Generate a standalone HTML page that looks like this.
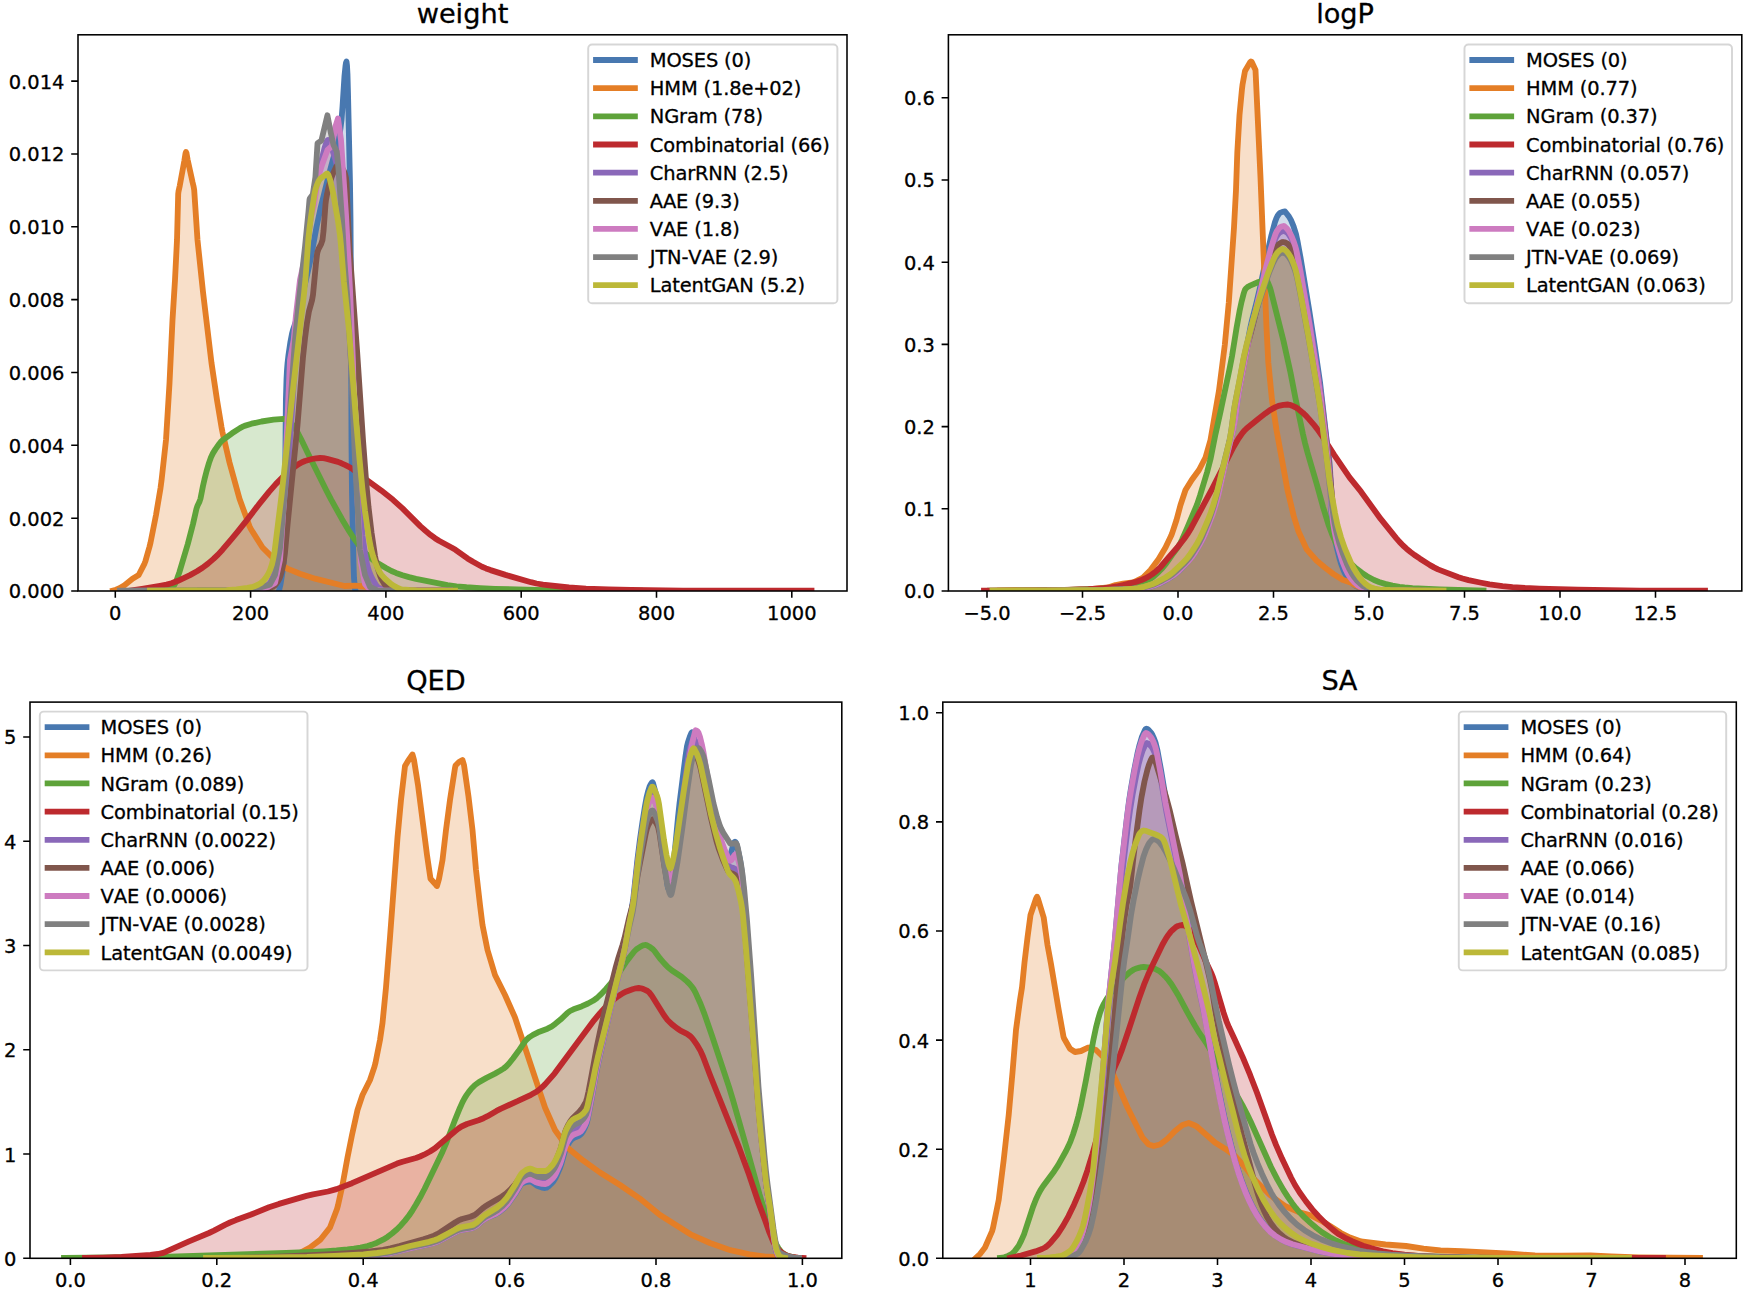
<!DOCTYPE html>
<html lang="en"><head><meta charset="utf-8"><title>Distribution plots</title>
<style>html,body{margin:0;padding:0;background:#fff}svg{display:block}text{font-kerning:none;font-variant-ligatures:none;stroke:#000;stroke-width:0.3px;stroke-linejoin:round}</style></head>
<body>
<svg width="1748" height="1294" viewBox="0 0 1748 1294" font-family="'DejaVu Sans','Liberation Sans',sans-serif">
<rect width="1748" height="1294" fill="#fff"/>
<g id="ax-weight">
<clipPath id="clip0"><rect x="78.0" y="34.8" width="769.0" height="556.2"/></clipPath>
<g clip-path="url(#clip0)">
<path d="M279 590.6 L280.5 584.4 L283 568.9 L284 559 L284.5 550 L285.9 400 L286.5 379.5 L287 370 L287.5 363.7 L288.5 354.9 L290.5 341.5 L292 333.8 L293 329.9 L296.5 319.7 L298 314.2 L309.5 264.3 L311.5 254.4 L316.5 227 L320.5 208.5 L328.5 176.2 L332.5 161.2 L337 146.4 L339 137.5 L340.5 128.2 L341.5 120 L342.5 107.1 L344.5 75.8 L345.5 66 L346 62.8 L346.5 61.5 L347 65.7 L347.5 75 L348 93.4 L350 183.4 L350.5 220 L351 300 L351.5 443.8 L352 493.2 L353.5 562.8 L354 578 L355 588.9 L355.5 590.6 L355.5 591.0 L279 591.0 Z" fill="#4878b0" fill-opacity="0.25"/>
<path d="M113 590.6 L116 589.8 L119.5 588.3 L124.5 585.3 L132.5 578.7 L138.7 575 L144.5 563.6 L145.5 560.9 L149.5 546.8 L150.5 542.7 L156 515 L160.5 488.2 L161.5 480.7 L166 440 L169.5 383.3 L172.5 320 L175 280 L177 240 L178.2 194 L178.5 191.5 L179.8 185.6 L184.4 160.4 L185.5 153.4 L186 152 L186.5 153.2 L187.6 159.6 L192.6 182.4 L193.5 186.1 L194.2 190 L197.5 240 L203 292 L211.5 363 L217 400 L221.5 427.1 L222.5 432.3 L229.5 462.5 L239.5 498.7 L249.5 526.3 L251 529.3 L262.5 547.5 L275.5 560.4 L286.5 568.1 L288 568.9 L300 573.7 L315 578.7 L344.5 586 L355 585.7 L364.5 586.5 L387.5 589.5 L410 590.2 L455 590.6 L455 591.0 L113 591.0 Z" fill="#e47e26" fill-opacity="0.25"/>
<path d="M150 590.6 L163 590.1 L166 589.9 L168 589.4 L170.5 588.3 L172.5 587.1 L174 585.4 L176 582 L179.5 571.9 L187.8 544 L193 524 L196.5 508.6 L197.5 505.7 L199.5 501.6 L200.5 498.6 L203 485.9 L204.5 479.3 L206.5 471.4 L209 462.9 L211 457.2 L213 453.1 L215.5 449.1 L219.5 443.5 L221 441.7 L223 439.8 L232 433.3 L240 428.1 L242.5 426.7 L244.5 425.9 L251.5 423.7 L261.5 421.5 L273.5 419.6 L283.6 418.8 L285 419 L286.5 419.7 L289 421.3 L291 422.9 L293.5 426 L298 433.3 L301 439 L307.5 452.5 L326 489.7 L331 499.4 L342 519.2 L349.5 531.7 L354 538.6 L359 545.3 L363 550.3 L366.5 554.2 L370 557.5 L373.5 560.3 L378 563.3 L386 568 L391.5 571 L396 572.9 L402.5 575.2 L409 577.1 L416 578.8 L447.5 585.1 L456.5 586.3 L466.5 587.2 L480 588.1 L495 588.8 L535.5 590 L574 590.6 L640 590.6 L640 591.0 L150 591.0 Z" fill="#5ea33a" fill-opacity="0.25"/>
<path d="M130 590.6 L142 588.8 L160 585.8 L166.5 584.6 L171.5 583.3 L178 580.8 L190 575.1 L197 571.3 L202.5 567.8 L208 563.6 L213.5 558.9 L218 554.6 L222.5 549.7 L231.5 539.2 L237.5 531.9 L246.5 520.6 L258.5 504.9 L269 491.9 L276 483.9 L285 474.8 L289 471.3 L295 466.7 L299 463.9 L302 462.2 L305 461 L312 459 L316 458.3 L320 458 L323.5 458.2 L327 458.9 L338 461.9 L341.5 463.3 L345.5 465.1 L350.5 467.8 L353 469.4 L364.5 478.3 L381 490.3 L393 499.8 L402.5 508.4 L420.5 526.4 L425.5 530.8 L430.5 534.9 L435 538.2 L439 540.8 L451.5 547.5 L455.5 549.8 L467.5 558.4 L473 561.8 L482 566.7 L486 568.4 L490.5 570.1 L505.5 574.9 L531 582.2 L536.5 583.5 L543 584.6 L569 587.5 L586 588.6 L608.5 589.5 L631 590 L683 590.6 L811.5 590.6 L811.5 591.0 L130 591.0 Z" fill="#bd2a2e" fill-opacity="0.25"/>
<path d="M200 590.6 L221 590.5 L240 590.1 L255.5 589.5 L259.5 588.8 L262.5 587.8 L265.5 586.4 L268 585 L269.5 583.6 L271 581.3 L272.5 578.3 L275.5 570.5 L276.5 566.6 L278 559.1 L281 540 L283 523.5 L285 502.9 L287.5 474 L289.5 447 L292.5 402.3 L296.5 336.5 L298.5 313.1 L301 290 L306 255 L311 215 L315 190.3 L319.5 168.1 L324.5 148.2 L326.5 141.8 L327.5 140.2 L328 140 L328.5 140.2 L329 140.8 L330.5 144.2 L335 158 L337.5 167.6 L339 175.6 L340 182.5 L342.5 205.4 L344 225.8 L346 258.8 L352.5 390.8 L355 434.4 L357.5 473 L360.5 513.8 L362.5 535.8 L365 553.7 L366.5 561.9 L367.5 566.2 L369 571.1 L371 576.1 L373 580 L376 585 L377.5 586.9 L378.5 587.7 L383 589.5 L386.5 590.3 L389.5 590.6 L450 590.6 L450 591.0 L200 591.0 Z" fill="#8a68b9" fill-opacity="0.25"/>
<path d="M200 590.6 L240 590.2 L262 589.5 L265.5 589.1 L268.5 588.4 L271.5 587.4 L273 586.8 L274.5 585.7 L276 584 L278 581.2 L279.5 578.4 L280.5 575.7 L282 570.4 L283.7 562.5 L285 552.3 L287.5 525 L297.5 425 L303 356.9 L305 338.4 L307 322.7 L309 311.1 L312 300.4 L313 294.7 L316 263.1 L317 254.6 L317.5 252 L318.5 249 L321 244.4 L322.5 240 L323.5 231.2 L325.5 204.1 L326 200 L327 194.5 L329 185.5 L331.5 177.3 L333 173.6 L336 167.1 L337 165.6 L338 165 L339.5 165.5 L341 166.9 L343 169.3 L344 171.3 L345 174 L346 178 L346.5 183 L348.5 229.8 L349.5 248.2 L357 350 L363 440.3 L366 479.8 L368.5 506.9 L371.5 532.4 L375 556 L376 561.2 L377.5 567.2 L379 572.4 L380.5 576.7 L382 580 L384.5 584.3 L386 586.2 L387 587.2 L390 588.9 L392.5 590 L394.5 590.5 L396 590.6 L450 590.6 L450 591.0 L200 591.0 Z" fill="#80564c" fill-opacity="0.25"/>
<path d="M200 590.6 L258 589.5 L268 587 L275 583 L280 560 L280.5 553 L284 500 L290 360 L293.7 340 L296 315 L300 280 L304 262 L309 225 L314 205 L318 178 L322 165 L327.5 150 L332 146 L335 128 L338 118.5 L341 140 L346 215 L350 290 L353 363 L353.7 400 L357.5 500 L360.5 554 L361 562.5 L365 584 L369.5 589.1 L370 589.5 L371 589.6 L385 590.6 L450 590.6 L450 591.0 L200 591.0 Z" fill="#cd7bc0" fill-opacity="0.25"/>
<path d="M120 590.6 L240 590 L255 589 L269 584.9 L270 584.5 L275 575 L279.5 550.9 L280 548 L280.5 542.7 L285 490 L290 410 L295 340 L299 300 L305.1 246 L308.5 211.6 L309.5 199.7 L309.7 198.7 L310 198.2 L312.8 194.4 L315.4 177.3 L317.5 143.7 L317.6 143.3 L318 142.9 L321 140.8 L321.5 140.1 L327.4 115.3 L330.8 132.7 L333.4 144.7 L336.8 151.5 L338.5 168.7 L342 220 L344.5 262 L347.5 300 L351 363 L355 460 L360 550 L365 575 L370 587 L378 590.6 L450 590.6 L450 591.0 L120 591.0 Z" fill="#808080" fill-opacity="0.25"/>
<path d="M150 590.6 L191 590.5 L226.5 590.2 L236.5 589.5 L247.5 587.9 L251.5 587.2 L254.5 586.3 L258 584.8 L261 583 L263.5 580.7 L266.5 576.8 L268.5 573.4 L270 570.1 L272 564.2 L273 559.9 L274.5 552 L281.5 495.8 L293.5 385 L304 294 L305.5 278.6 L308.5 237.5 L309.5 228.2 L311 216.8 L314.5 193.9 L315.5 189.3 L317 184.8 L318.5 181.3 L320 179 L321.5 177.7 L324 176 L326 174.1 L327.3 173.5 L328 174.2 L328.5 175.3 L330 179.5 L333 192.3 L338 221 L340 235.4 L341 245.7 L343.9 281.8 L349 330.2 L356 419.2 L359.5 459 L362.5 489.8 L365 511.1 L369 538.4 L371 548.6 L373 556 L375 561.8 L377.5 567.8 L379.5 571.9 L381.5 574.9 L385 578.7 L391 584 L393.5 585.7 L398.5 588.3 L400.5 589 L402 589.3 L409 590 L416.5 590.4 L424 590.6 L455 590.6 L455 591.0 L150 591.0 Z" fill="#bcb838" fill-opacity="0.25"/>
<path d="M279 590.6 L280.5 584.4 L283 568.9 L284 559 L284.5 550 L285.9 400 L286.5 379.5 L287 370 L287.5 363.7 L288.5 354.9 L290.5 341.5 L292 333.8 L293 329.9 L296.5 319.7 L298 314.2 L309.5 264.3 L311.5 254.4 L316.5 227 L320.5 208.5 L328.5 176.2 L332.5 161.2 L337 146.4 L339 137.5 L340.5 128.2 L341.5 120 L342.5 107.1 L344.5 75.8 L345.5 66 L346 62.8 L346.5 61.5 L347 65.7 L347.5 75 L348 93.4 L350 183.4 L350.5 220 L351 300 L351.5 443.8 L352 493.2 L353.5 562.8 L354 578 L355 588.9 L355.5 590.6" fill="none" stroke="#4878b0" stroke-width="5.83" stroke-linejoin="round" stroke-linecap="square"/>
<path d="M113 590.6 L116 589.8 L119.5 588.3 L124.5 585.3 L132.5 578.7 L138.7 575 L144.5 563.6 L145.5 560.9 L149.5 546.8 L150.5 542.7 L156 515 L160.5 488.2 L161.5 480.7 L166 440 L169.5 383.3 L172.5 320 L175 280 L177 240 L178.2 194 L178.5 191.5 L179.8 185.6 L184.4 160.4 L185.5 153.4 L186 152 L186.5 153.2 L187.6 159.6 L192.6 182.4 L193.5 186.1 L194.2 190 L197.5 240 L203 292 L211.5 363 L217 400 L221.5 427.1 L222.5 432.3 L229.5 462.5 L239.5 498.7 L249.5 526.3 L251 529.3 L262.5 547.5 L275.5 560.4 L286.5 568.1 L288 568.9 L300 573.7 L315 578.7 L344.5 586 L355 585.7 L364.5 586.5 L387.5 589.5 L410 590.2 L455 590.6" fill="none" stroke="#e47e26" stroke-width="5.83" stroke-linejoin="round" stroke-linecap="square"/>
<path d="M150 590.6 L163 590.1 L166 589.9 L168 589.4 L170.5 588.3 L172.5 587.1 L174 585.4 L176 582 L179.5 571.9 L187.8 544 L193 524 L196.5 508.6 L197.5 505.7 L199.5 501.6 L200.5 498.6 L203 485.9 L204.5 479.3 L206.5 471.4 L209 462.9 L211 457.2 L213 453.1 L215.5 449.1 L219.5 443.5 L221 441.7 L223 439.8 L232 433.3 L240 428.1 L242.5 426.7 L244.5 425.9 L251.5 423.7 L261.5 421.5 L273.5 419.6 L283.6 418.8 L285 419 L286.5 419.7 L289 421.3 L291 422.9 L293.5 426 L298 433.3 L301 439 L307.5 452.5 L326 489.7 L331 499.4 L342 519.2 L349.5 531.7 L354 538.6 L359 545.3 L363 550.3 L366.5 554.2 L370 557.5 L373.5 560.3 L378 563.3 L386 568 L391.5 571 L396 572.9 L402.5 575.2 L409 577.1 L416 578.8 L447.5 585.1 L456.5 586.3 L466.5 587.2 L480 588.1 L495 588.8 L535.5 590 L574 590.6 L640 590.6" fill="none" stroke="#5ea33a" stroke-width="5.83" stroke-linejoin="round" stroke-linecap="square"/>
<path d="M130 590.6 L142 588.8 L160 585.8 L166.5 584.6 L171.5 583.3 L178 580.8 L190 575.1 L197 571.3 L202.5 567.8 L208 563.6 L213.5 558.9 L218 554.6 L222.5 549.7 L231.5 539.2 L237.5 531.9 L246.5 520.6 L258.5 504.9 L269 491.9 L276 483.9 L285 474.8 L289 471.3 L295 466.7 L299 463.9 L302 462.2 L305 461 L312 459 L316 458.3 L320 458 L323.5 458.2 L327 458.9 L338 461.9 L341.5 463.3 L345.5 465.1 L350.5 467.8 L353 469.4 L364.5 478.3 L381 490.3 L393 499.8 L402.5 508.4 L420.5 526.4 L425.5 530.8 L430.5 534.9 L435 538.2 L439 540.8 L451.5 547.5 L455.5 549.8 L467.5 558.4 L473 561.8 L482 566.7 L486 568.4 L490.5 570.1 L505.5 574.9 L531 582.2 L536.5 583.5 L543 584.6 L569 587.5 L586 588.6 L608.5 589.5 L631 590 L683 590.6 L811.5 590.6" fill="none" stroke="#bd2a2e" stroke-width="5.83" stroke-linejoin="round" stroke-linecap="square"/>
<path d="M200 590.6 L221 590.5 L240 590.1 L255.5 589.5 L259.5 588.8 L262.5 587.8 L265.5 586.4 L268 585 L269.5 583.6 L271 581.3 L272.5 578.3 L275.5 570.5 L276.5 566.6 L278 559.1 L281 540 L283 523.5 L285 502.9 L287.5 474 L289.5 447 L292.5 402.3 L296.5 336.5 L298.5 313.1 L301 290 L306 255 L311 215 L315 190.3 L319.5 168.1 L324.5 148.2 L326.5 141.8 L327.5 140.2 L328 140 L328.5 140.2 L329 140.8 L330.5 144.2 L335 158 L337.5 167.6 L339 175.6 L340 182.5 L342.5 205.4 L344 225.8 L346 258.8 L352.5 390.8 L355 434.4 L357.5 473 L360.5 513.8 L362.5 535.8 L365 553.7 L366.5 561.9 L367.5 566.2 L369 571.1 L371 576.1 L373 580 L376 585 L377.5 586.9 L378.5 587.7 L383 589.5 L386.5 590.3 L389.5 590.6 L450 590.6" fill="none" stroke="#8a68b9" stroke-width="5.83" stroke-linejoin="round" stroke-linecap="square"/>
<path d="M200 590.6 L240 590.2 L262 589.5 L265.5 589.1 L268.5 588.4 L271.5 587.4 L273 586.8 L274.5 585.7 L276 584 L278 581.2 L279.5 578.4 L280.5 575.7 L282 570.4 L283.7 562.5 L285 552.3 L287.5 525 L297.5 425 L303 356.9 L305 338.4 L307 322.7 L309 311.1 L312 300.4 L313 294.7 L316 263.1 L317 254.6 L317.5 252 L318.5 249 L321 244.4 L322.5 240 L323.5 231.2 L325.5 204.1 L326 200 L327 194.5 L329 185.5 L331.5 177.3 L333 173.6 L336 167.1 L337 165.6 L338 165 L339.5 165.5 L341 166.9 L343 169.3 L344 171.3 L345 174 L346 178 L346.5 183 L348.5 229.8 L349.5 248.2 L357 350 L363 440.3 L366 479.8 L368.5 506.9 L371.5 532.4 L375 556 L376 561.2 L377.5 567.2 L379 572.4 L380.5 576.7 L382 580 L384.5 584.3 L386 586.2 L387 587.2 L390 588.9 L392.5 590 L394.5 590.5 L396 590.6 L450 590.6" fill="none" stroke="#80564c" stroke-width="5.83" stroke-linejoin="round" stroke-linecap="square"/>
<path d="M200 590.6 L258 589.5 L268 587 L275 583 L280 560 L280.5 553 L284 500 L290 360 L293.7 340 L296 315 L300 280 L304 262 L309 225 L314 205 L318 178 L322 165 L327.5 150 L332 146 L335 128 L338 118.5 L341 140 L346 215 L350 290 L353 363 L353.7 400 L357.5 500 L360.5 554 L361 562.5 L365 584 L369.5 589.1 L370 589.5 L371 589.6 L385 590.6 L450 590.6" fill="none" stroke="#cd7bc0" stroke-width="5.83" stroke-linejoin="round" stroke-linecap="square"/>
<path d="M120 590.6 L240 590 L255 589 L269 584.9 L270 584.5 L275 575 L279.5 550.9 L280 548 L280.5 542.7 L285 490 L290 410 L295 340 L299 300 L305.1 246 L308.5 211.6 L309.5 199.7 L309.7 198.7 L310 198.2 L312.8 194.4 L315.4 177.3 L317.5 143.7 L317.6 143.3 L318 142.9 L321 140.8 L321.5 140.1 L327.4 115.3 L330.8 132.7 L333.4 144.7 L336.8 151.5 L338.5 168.7 L342 220 L344.5 262 L347.5 300 L351 363 L355 460 L360 550 L365 575 L370 587 L378 590.6 L450 590.6" fill="none" stroke="#808080" stroke-width="5.83" stroke-linejoin="round" stroke-linecap="square"/>
<path d="M150 590.6 L191 590.5 L226.5 590.2 L236.5 589.5 L247.5 587.9 L251.5 587.2 L254.5 586.3 L258 584.8 L261 583 L263.5 580.7 L266.5 576.8 L268.5 573.4 L270 570.1 L272 564.2 L273 559.9 L274.5 552 L281.5 495.8 L293.5 385 L304 294 L305.5 278.6 L308.5 237.5 L309.5 228.2 L311 216.8 L314.5 193.9 L315.5 189.3 L317 184.8 L318.5 181.3 L320 179 L321.5 177.7 L324 176 L326 174.1 L327.3 173.5 L328 174.2 L328.5 175.3 L330 179.5 L333 192.3 L338 221 L340 235.4 L341 245.7 L343.9 281.8 L349 330.2 L356 419.2 L359.5 459 L362.5 489.8 L365 511.1 L369 538.4 L371 548.6 L373 556 L375 561.8 L377.5 567.8 L379.5 571.9 L381.5 574.9 L385 578.7 L391 584 L393.5 585.7 L398.5 588.3 L400.5 589 L402 589.3 L409 590 L416.5 590.4 L424 590.6 L455 590.6" fill="none" stroke="#bcb838" stroke-width="5.83" stroke-linejoin="round" stroke-linecap="square"/>
</g>
<rect x="78.0" y="34.8" width="769.0" height="556.2" fill="none" stroke="#000" stroke-width="1.56"/>
<path d="M115.3 591.0 v6.8 M250.6 591.0 v6.8 M385.9 591.0 v6.8 M521.2 591.0 v6.8 M656.5 591.0 v6.8 M791.8 591.0 v6.8 M78.0 591 h-6.8 M78.0 518.2 h-6.8 M78.0 445.3 h-6.8 M78.0 372.5 h-6.8 M78.0 299.6 h-6.8 M78.0 226.8 h-6.8 M78.0 154 h-6.8 M78.0 81.1 h-6.8" stroke="#000" stroke-width="1.56" fill="none"/>
<g font-size="19.44" fill="#000">
<text x="115.3" y="619.5" text-anchor="middle">0</text>
<text x="250.6" y="619.5" text-anchor="middle">200</text>
<text x="385.9" y="619.5" text-anchor="middle">400</text>
<text x="521.2" y="619.5" text-anchor="middle">600</text>
<text x="656.5" y="619.5" text-anchor="middle">800</text>
<text x="791.8" y="619.5" text-anchor="middle">1000</text>
<text x="64.4" y="598.4" text-anchor="end">0.000</text>
<text x="64.4" y="525.6" text-anchor="end">0.002</text>
<text x="64.4" y="452.7" text-anchor="end">0.004</text>
<text x="64.4" y="379.9" text-anchor="end">0.006</text>
<text x="64.4" y="307" text-anchor="end">0.008</text>
<text x="64.4" y="234.2" text-anchor="end">0.010</text>
<text x="64.4" y="161.4" text-anchor="end">0.012</text>
<text x="64.4" y="88.5" text-anchor="end">0.014</text>
</g>
<text x="462.5" y="23.1" text-anchor="middle" font-size="27.2" fill="#000">weight</text>
<rect x="588.2" y="44.5" width="249.2" height="258.8" rx="3.9" ry="3.9" fill="#fff" fill-opacity="0.8" stroke="#ccc" stroke-opacity="0.8" stroke-width="1.94"/>
<g font-size="19.44" fill="#000">
<path d="M596 60 h38.9" stroke="#4878b0" stroke-width="5.83" stroke-linecap="square" fill="none"/>
<text x="649.8" y="67.2" letter-spacing="-0.15">MOSES (0)</text>
<path d="M596 88.2 h38.9" stroke="#e47e26" stroke-width="5.83" stroke-linecap="square" fill="none"/>
<text x="649.8" y="95.3" letter-spacing="-0.15">HMM (1.8e+02)</text>
<path d="M596 116.3 h38.9" stroke="#5ea33a" stroke-width="5.83" stroke-linecap="square" fill="none"/>
<text x="649.8" y="123.4" letter-spacing="-0.15">NGram (78)</text>
<path d="M596 144.5 h38.9" stroke="#bd2a2e" stroke-width="5.83" stroke-linecap="square" fill="none"/>
<text x="649.8" y="151.6" letter-spacing="-0.15">Combinatorial (66)</text>
<path d="M596 172.7 h38.9" stroke="#8a68b9" stroke-width="5.83" stroke-linecap="square" fill="none"/>
<text x="649.8" y="179.8" letter-spacing="-0.15">CharRNN (2.5)</text>
<path d="M596 200.8 h38.9" stroke="#80564c" stroke-width="5.83" stroke-linecap="square" fill="none"/>
<text x="649.8" y="207.9" letter-spacing="-0.15">AAE (9.3)</text>
<path d="M596 228.9 h38.9" stroke="#cd7bc0" stroke-width="5.83" stroke-linecap="square" fill="none"/>
<text x="649.8" y="236" letter-spacing="-0.15">VAE (1.8)</text>
<path d="M596 257.1 h38.9" stroke="#808080" stroke-width="5.83" stroke-linecap="square" fill="none"/>
<text x="649.8" y="264.2" letter-spacing="-0.15">JTN-VAE (2.9)</text>
<path d="M596 285.2 h38.9" stroke="#bcb838" stroke-width="5.83" stroke-linecap="square" fill="none"/>
<text x="649.8" y="292.3" letter-spacing="-0.15">LatentGAN (5.2)</text>
</g>
</g>
<g id="ax-logP">
<clipPath id="clip1"><rect x="948.4" y="34.8" width="793.4" height="556.2"/></clipPath>
<g clip-path="url(#clip1)">
<path d="M1080 590.6 L1121.5 589.5 L1141 588.4 L1144.5 587.9 L1148 587.2 L1152.5 585.9 L1158 584 L1163 581.6 L1170.5 577.3 L1175.5 573.9 L1179.5 570.4 L1188.5 560.8 L1192.5 556 L1196 550.8 L1200.5 542.9 L1203 538 L1205.5 532.5 L1210.5 519.1 L1215 505.4 L1218.5 492.2 L1224 465.8 L1228.5 446.1 L1232.5 429.7 L1234.5 420.4 L1236 411.6 L1238.5 392.7 L1240 383 L1250.5 326.8 L1252 320.1 L1256.5 302.5 L1260 287.6 L1267 254.8 L1271.5 234.9 L1275 222.1 L1276.5 218 L1277.5 216 L1279 213.8 L1280 212.9 L1282.5 211.9 L1285 211.5 L1289 216.6 L1291 220.2 L1293.5 226.2 L1296 234.2 L1297.5 241.1 L1300.5 257.6 L1309 308.9 L1315 347.9 L1320 382.2 L1327.5 447.5 L1329.5 462.4 L1330.2 472.3 L1331 503.2 L1331.5 513 L1332.5 524.2 L1333.5 531.3 L1335.5 542.2 L1339.5 558.4 L1341 563.4 L1343 568.8 L1344.5 572.3 L1346 575.1 L1348 578.1 L1350 580.5 L1353.5 584.1 L1356 586.1 L1361 588.2 L1363.5 588.9 L1366 589.4 L1371.5 589.7 L1387.5 590 L1392 590.3 L1392 590.6 L1392 591.0 L1080 591.0 Z" fill="#4878b0" fill-opacity="0.25"/>
<path d="M1000 590.6 L1050.5 590.3 L1088 589.5 L1108 587.5 L1115.5 585 L1123 583.7 L1133 582.5 L1143 577.5 L1150.5 570 L1158.5 559.2 L1165.5 547.5 L1171 536.1 L1172 533.6 L1176.5 520 L1180.5 505 L1185.5 490 L1191.7 480 L1199 470 L1205.5 457.5 L1210.5 440 L1219 390.6 L1224.8 345 L1228.8 302.5 L1234 227.5 L1236 190 L1237.3 152.5 L1239.5 115 L1242 88.9 L1242.5 84.8 L1245 71 L1250 62.4 L1251 61.5 L1251.5 61.8 L1252 62.5 L1255.5 70 L1260.5 177.5 L1266.5 327.5 L1268.3 362.5 L1271.5 395 L1272 400 L1276.5 430 L1287.5 490 L1293.7 516 L1298.3 531 L1306.7 549.4 L1316.5 560.5 L1324.8 567.5 L1333.5 574.1 L1342.5 579.8 L1351.2 582.8 L1356 585.7 L1362 588.3 L1376 590 L1399.5 590.6 L1440 590.6 L1440 591.0 L1000 591.0 Z" fill="#e47e26" fill-opacity="0.25"/>
<path d="M990 590.6 L1040 590.4 L1068 590 L1100.5 588.7 L1113.5 587.4 L1123 586 L1128 585 L1144.5 580.9 L1149 579.4 L1151 578.5 L1153.5 576.7 L1159 571.6 L1162.5 567.9 L1166 563.7 L1172 555 L1177.5 547.8 L1180 543.8 L1182 539.7 L1187.5 527.3 L1197 504.6 L1200 495.7 L1207 472.5 L1210.5 459.1 L1215.5 434 L1220.5 411.7 L1229.5 369.2 L1232 356.3 L1236.5 328.2 L1239.5 311.4 L1241.5 302 L1243.5 294.2 L1244.5 291 L1245 289.8 L1246 288.4 L1247.5 287.1 L1249.5 285.9 L1258.5 282 L1264 280.3 L1266 280 L1266.5 280.2 L1267 280.8 L1268 282.8 L1270 287.9 L1271 291.2 L1283.5 341 L1290.5 372.6 L1295.5 398.5 L1303 434.4 L1305 443 L1307.5 452.5 L1317 485 L1323 506.8 L1328.5 524.7 L1332 534 L1335.5 542.1 L1338.5 547.6 L1342 553 L1346.5 558.8 L1351 563.7 L1356 568.3 L1362 572.9 L1367 576.2 L1374 580 L1379 582 L1385 583.9 L1392.5 585.6 L1399.5 586.8 L1404.5 587.5 L1412.5 588.1 L1439.5 589.4 L1483.5 590.6 L1483.5 591.0 L990 591.0 Z" fill="#5ea33a" fill-opacity="0.25"/>
<path d="M984 590.6 L1022.5 590.4 L1064.5 589.9 L1088.5 589.1 L1104 588.1 L1111 587.4 L1116.5 586.5 L1123 585.2 L1131 583.2 L1136.5 581.7 L1141.5 580 L1145.5 578.3 L1149 576.4 L1152 574.4 L1155.5 571.7 L1158 569.6 L1160.5 567 L1168 558.1 L1178 546.6 L1184 539 L1188 533.3 L1191.5 527.4 L1212.5 488.1 L1233.5 446.9 L1238.5 438.5 L1242.5 432.8 L1244.5 430.5 L1246.5 428.6 L1258.5 418.7 L1265.5 413.3 L1270 410.1 L1275 407.4 L1278.5 405.9 L1283.5 404.8 L1287.5 404.5 L1289.5 404.8 L1292 405.6 L1296 407.5 L1298.5 409.2 L1303 412.9 L1305.5 415.3 L1309 419.1 L1313.5 424.3 L1317.5 429.4 L1322 435.7 L1334 454.6 L1349.5 477.4 L1361 491.7 L1380.5 518.7 L1396 537.8 L1399.5 541.9 L1403 545.5 L1406.5 548.7 L1410.5 552 L1414.5 555 L1420 558.7 L1430 565.1 L1434 567.4 L1438 569.4 L1458.5 577.2 L1462.5 578.5 L1468.5 580.1 L1480 582.5 L1489.5 584.3 L1502.5 586.1 L1512.5 587.1 L1525 588 L1539.5 588.6 L1578 589.6 L1640 590.6 L1705 590.6 L1705 591.0 L984 591.0 Z" fill="#bd2a2e" fill-opacity="0.25"/>
<path d="M1060 590.6 L1093 590.2 L1125.5 589.3 L1140.5 588.2 L1144.5 587.5 L1149 586.3 L1155.5 584.2 L1160 582.1 L1168.5 577.4 L1174.5 573.2 L1178.5 569.6 L1188 560 L1191.5 555.7 L1195.5 549.7 L1199 543.8 L1201.5 539.2 L1203.5 535.1 L1206 529.3 L1210 519.2 L1212.5 512.4 L1215.5 503.1 L1217.5 495.9 L1227 454.6 L1231 438.5 L1233 429.5 L1234.5 420.8 L1237 401.8 L1238.5 392.4 L1248.5 339.6 L1250.5 331.2 L1254.4 316.3 L1262 284.9 L1268.5 260.2 L1273 245.5 L1274.5 241.1 L1276 237.5 L1278 234.3 L1279.5 232.6 L1282 231.4 L1284 231 L1285 231.3 L1286 231.9 L1287.5 233 L1288.5 234.2 L1291 237.9 L1293.5 243.2 L1295.5 248.6 L1297 253.7 L1298.5 260.5 L1301 273.7 L1310 325.2 L1318.5 378.3 L1321.3 397.3 L1327.5 448.6 L1329 462.5 L1330.5 478.8 L1332.5 505.9 L1334.2 521.5 L1335.5 529.6 L1337.6 539.4 L1339.5 546.7 L1342.5 556.5 L1346 566.2 L1348.5 571.7 L1350.5 575.2 L1352.5 578.1 L1355 581.1 L1358.5 584.4 L1361 586.3 L1366 588.3 L1368.5 589 L1371 589.5 L1377.5 589.8 L1394.5 590.2 L1400 590.6 L1400 591.0 L1060 591.0 Z" fill="#8a68b9" fill-opacity="0.25"/>
<path d="M1040 590.6 L1077 590.4 L1114.5 589.7 L1126.5 589.2 L1137 588.5 L1140.5 588.2 L1144.5 587.4 L1153 584.9 L1157 583.3 L1165.5 578.9 L1171.5 575.2 L1176 571.7 L1185 563 L1189 558.7 L1192 554.7 L1196 548.6 L1199 543.6 L1201.5 539 L1203.5 534.7 L1210.5 517.6 L1213 510.5 L1215.5 502.6 L1218.5 491 L1226 458.5 L1231.5 436.1 L1233 428.2 L1236 406.1 L1237 399.9 L1246.5 350.2 L1248.5 341.4 L1252.9 324.7 L1257.5 306.5 L1262 290.1 L1268 269.7 L1270.5 262 L1274 252.3 L1276 248 L1278.5 244.5 L1279.5 243.6 L1281 242.6 L1282 242.2 L1283 242 L1285 242.4 L1287.5 243.7 L1289.5 245.9 L1292 250 L1294.5 255.5 L1296.5 261.2 L1298 266.9 L1299.5 274.1 L1310 331.5 L1316 367.5 L1321 399 L1328 454.6 L1332.5 502.1 L1335 522.6 L1337 533.1 L1339.5 543.1 L1342 551.4 L1346 562.7 L1348 567.4 L1350.5 572.4 L1352.5 575.7 L1354.5 578.5 L1357.5 581.9 L1361 585 L1363 586.4 L1365.5 587.5 L1370.5 589.1 L1374.5 589.6 L1387.5 590.1 L1420 590.6 L1420 591.0 L1040 591.0 Z" fill="#80564c" fill-opacity="0.25"/>
<path d="M1050 590.6 L1084 590.3 L1119.5 589.6 L1131 589.1 L1141 588.4 L1144.5 587.9 L1148 587.1 L1156 584.6 L1160 583 L1168.5 578.4 L1174.5 574.5 L1179 570.7 L1188 561.5 L1192 556.9 L1195 552.5 L1201 542.3 L1203.5 537.4 L1205.5 533 L1212.5 514.5 L1215 506.8 L1217 499.9 L1219 491.7 L1227.5 453 L1232 434.8 L1233.5 427.9 L1235 419.5 L1237.5 400.7 L1239 391 L1249 338 L1251 329.2 L1256 309.8 L1265 271.5 L1270.5 249.9 L1273.5 239.9 L1275.5 234 L1276.8 231.3 L1279 228.2 L1279.9 227.4 L1281.5 226.6 L1283.7 226 L1284.5 226.3 L1286.5 228.1 L1289 231.3 L1291.5 236 L1293.5 241 L1295.2 246.1 L1296.5 251.1 L1300.5 272.1 L1309.5 324.6 L1317.5 375.3 L1320.5 396.2 L1326.5 446.7 L1328.5 465.1 L1329.5 476.8 L1331.5 507.5 L1333 522.2 L1334.5 531.4 L1337 542.9 L1339.5 552 L1342.5 561.6 L1346 570.3 L1347.5 573.3 L1349.5 576.5 L1352 579.8 L1355 582.9 L1358 585.6 L1360 586.8 L1365 588.6 L1369.5 589.5 L1380.5 590 L1410 590.6 L1410 591.0 L1050 591.0 Z" fill="#cd7bc0" fill-opacity="0.25"/>
<path d="M1020 590.6 L1064.5 590.4 L1108.5 589.9 L1129.5 589 L1137.5 588.5 L1141.5 587.9 L1147.5 586.4 L1154.5 584.2 L1162.5 580.3 L1168.5 577 L1172.5 574.3 L1176 571.3 L1184.5 563.3 L1189 558.3 L1192 554.2 L1196.5 547.2 L1199 542.9 L1201.5 538 L1208.5 521.4 L1211 514.6 L1213.5 506.9 L1216.5 495.8 L1224 463 L1229.5 440.7 L1231 432.6 L1234 410.1 L1235.5 401.4 L1239.7 380.2 L1244 357 L1247.5 342.5 L1254 318.7 L1257 308.5 L1265.5 282.7 L1269 272.9 L1273 263.1 L1275.5 258.2 L1277.5 255.6 L1279 254.1 L1281 252.9 L1282.5 252.5 L1284.5 253.1 L1286 253.9 L1287 254.8 L1289.1 257.4 L1291 260.6 L1293 264.9 L1295.3 271.1 L1296.5 275.4 L1298 282.2 L1300.5 294.7 L1308.5 337.6 L1314.5 372.4 L1319.5 402.8 L1321 413.2 L1327 460.4 L1329.5 484.7 L1331.5 502.1 L1334.5 523 L1336.5 532.6 L1339.5 543.7 L1342.5 552.7 L1347 564.2 L1349.5 569.4 L1352 573.9 L1354.5 577.5 L1357 580.6 L1360 583.5 L1363 585.9 L1365 587 L1368.5 588.3 L1373.5 589.5 L1381 589.9 L1404.5 590.4 L1430 590.6 L1430 591.0 L1020 591.0 Z" fill="#808080" fill-opacity="0.25"/>
<path d="M992.5 590.6 L1049 590.4 L1103.5 590 L1123 589.3 L1134 588.6 L1138 588.1 L1144 586.8 L1152 584.3 L1157.5 581.8 L1165.5 577.5 L1170 574.5 L1173.5 571.7 L1182 563.7 L1186.5 559 L1189.5 555.1 L1194 548.5 L1197.5 542.7 L1200 538 L1203.5 530.4 L1208 519.9 L1211 511.9 L1213.5 504.5 L1216 495.7 L1219 484 L1229.5 440.6 L1231.5 429.6 L1234 410.3 L1235 404 L1244 356.1 L1246.5 345 L1253 320.6 L1257 306.6 L1261.5 292.5 L1268 273.1 L1272.5 261.6 L1275 256.1 L1277 253.1 L1279.5 250.5 L1281.5 249.3 L1282.5 249 L1284 249.4 L1286.5 251.1 L1288.5 253.6 L1290.5 256.8 L1292.5 261 L1294.5 266.3 L1295.5 269.4 L1297 275.6 L1300 290.6 L1308 333.9 L1318 393.2 L1320.5 409.9 L1329.5 480.6 L1332 496.5 L1335 513.1 L1337.5 525 L1341 537.4 L1345 548.9 L1351 563 L1353.5 567.9 L1356.5 573 L1359.5 577.3 L1362.5 581 L1366 584.3 L1368.5 586.2 L1370.5 587.2 L1374.5 588.6 L1377 589.2 L1379.5 589.6 L1390 590 L1416 590.4 L1443.5 590.6 L1443.5 591.0 L992.5 591.0 Z" fill="#bcb838" fill-opacity="0.25"/>
<path d="M1080 590.6 L1121.5 589.5 L1141 588.4 L1144.5 587.9 L1148 587.2 L1152.5 585.9 L1158 584 L1163 581.6 L1170.5 577.3 L1175.5 573.9 L1179.5 570.4 L1188.5 560.8 L1192.5 556 L1196 550.8 L1200.5 542.9 L1203 538 L1205.5 532.5 L1210.5 519.1 L1215 505.4 L1218.5 492.2 L1224 465.8 L1228.5 446.1 L1232.5 429.7 L1234.5 420.4 L1236 411.6 L1238.5 392.7 L1240 383 L1250.5 326.8 L1252 320.1 L1256.5 302.5 L1260 287.6 L1267 254.8 L1271.5 234.9 L1275 222.1 L1276.5 218 L1277.5 216 L1279 213.8 L1280 212.9 L1282.5 211.9 L1285 211.5 L1289 216.6 L1291 220.2 L1293.5 226.2 L1296 234.2 L1297.5 241.1 L1300.5 257.6 L1309 308.9 L1315 347.9 L1320 382.2 L1327.5 447.5 L1329.5 462.4 L1330.2 472.3 L1331 503.2 L1331.5 513 L1332.5 524.2 L1333.5 531.3 L1335.5 542.2 L1339.5 558.4 L1341 563.4 L1343 568.8 L1344.5 572.3 L1346 575.1 L1348 578.1 L1350 580.5 L1353.5 584.1 L1356 586.1 L1361 588.2 L1363.5 588.9 L1366 589.4 L1371.5 589.7 L1387.5 590 L1392 590.3 L1392 590.6" fill="none" stroke="#4878b0" stroke-width="5.83" stroke-linejoin="round" stroke-linecap="square"/>
<path d="M1000 590.6 L1050.5 590.3 L1088 589.5 L1108 587.5 L1115.5 585 L1123 583.7 L1133 582.5 L1143 577.5 L1150.5 570 L1158.5 559.2 L1165.5 547.5 L1171 536.1 L1172 533.6 L1176.5 520 L1180.5 505 L1185.5 490 L1191.7 480 L1199 470 L1205.5 457.5 L1210.5 440 L1219 390.6 L1224.8 345 L1228.8 302.5 L1234 227.5 L1236 190 L1237.3 152.5 L1239.5 115 L1242 88.9 L1242.5 84.8 L1245 71 L1250 62.4 L1251 61.5 L1251.5 61.8 L1252 62.5 L1255.5 70 L1260.5 177.5 L1266.5 327.5 L1268.3 362.5 L1271.5 395 L1272 400 L1276.5 430 L1287.5 490 L1293.7 516 L1298.3 531 L1306.7 549.4 L1316.5 560.5 L1324.8 567.5 L1333.5 574.1 L1342.5 579.8 L1351.2 582.8 L1356 585.7 L1362 588.3 L1376 590 L1399.5 590.6 L1440 590.6" fill="none" stroke="#e47e26" stroke-width="5.83" stroke-linejoin="round" stroke-linecap="square"/>
<path d="M990 590.6 L1040 590.4 L1068 590 L1100.5 588.7 L1113.5 587.4 L1123 586 L1128 585 L1144.5 580.9 L1149 579.4 L1151 578.5 L1153.5 576.7 L1159 571.6 L1162.5 567.9 L1166 563.7 L1172 555 L1177.5 547.8 L1180 543.8 L1182 539.7 L1187.5 527.3 L1197 504.6 L1200 495.7 L1207 472.5 L1210.5 459.1 L1215.5 434 L1220.5 411.7 L1229.5 369.2 L1232 356.3 L1236.5 328.2 L1239.5 311.4 L1241.5 302 L1243.5 294.2 L1244.5 291 L1245 289.8 L1246 288.4 L1247.5 287.1 L1249.5 285.9 L1258.5 282 L1264 280.3 L1266 280 L1266.5 280.2 L1267 280.8 L1268 282.8 L1270 287.9 L1271 291.2 L1283.5 341 L1290.5 372.6 L1295.5 398.5 L1303 434.4 L1305 443 L1307.5 452.5 L1317 485 L1323 506.8 L1328.5 524.7 L1332 534 L1335.5 542.1 L1338.5 547.6 L1342 553 L1346.5 558.8 L1351 563.7 L1356 568.3 L1362 572.9 L1367 576.2 L1374 580 L1379 582 L1385 583.9 L1392.5 585.6 L1399.5 586.8 L1404.5 587.5 L1412.5 588.1 L1439.5 589.4 L1483.5 590.6" fill="none" stroke="#5ea33a" stroke-width="5.83" stroke-linejoin="round" stroke-linecap="square"/>
<path d="M984 590.6 L1022.5 590.4 L1064.5 589.9 L1088.5 589.1 L1104 588.1 L1111 587.4 L1116.5 586.5 L1123 585.2 L1131 583.2 L1136.5 581.7 L1141.5 580 L1145.5 578.3 L1149 576.4 L1152 574.4 L1155.5 571.7 L1158 569.6 L1160.5 567 L1168 558.1 L1178 546.6 L1184 539 L1188 533.3 L1191.5 527.4 L1212.5 488.1 L1233.5 446.9 L1238.5 438.5 L1242.5 432.8 L1244.5 430.5 L1246.5 428.6 L1258.5 418.7 L1265.5 413.3 L1270 410.1 L1275 407.4 L1278.5 405.9 L1283.5 404.8 L1287.5 404.5 L1289.5 404.8 L1292 405.6 L1296 407.5 L1298.5 409.2 L1303 412.9 L1305.5 415.3 L1309 419.1 L1313.5 424.3 L1317.5 429.4 L1322 435.7 L1334 454.6 L1349.5 477.4 L1361 491.7 L1380.5 518.7 L1396 537.8 L1399.5 541.9 L1403 545.5 L1406.5 548.7 L1410.5 552 L1414.5 555 L1420 558.7 L1430 565.1 L1434 567.4 L1438 569.4 L1458.5 577.2 L1462.5 578.5 L1468.5 580.1 L1480 582.5 L1489.5 584.3 L1502.5 586.1 L1512.5 587.1 L1525 588 L1539.5 588.6 L1578 589.6 L1640 590.6 L1705 590.6" fill="none" stroke="#bd2a2e" stroke-width="5.83" stroke-linejoin="round" stroke-linecap="square"/>
<path d="M1060 590.6 L1093 590.2 L1125.5 589.3 L1140.5 588.2 L1144.5 587.5 L1149 586.3 L1155.5 584.2 L1160 582.1 L1168.5 577.4 L1174.5 573.2 L1178.5 569.6 L1188 560 L1191.5 555.7 L1195.5 549.7 L1199 543.8 L1201.5 539.2 L1203.5 535.1 L1206 529.3 L1210 519.2 L1212.5 512.4 L1215.5 503.1 L1217.5 495.9 L1227 454.6 L1231 438.5 L1233 429.5 L1234.5 420.8 L1237 401.8 L1238.5 392.4 L1248.5 339.6 L1250.5 331.2 L1254.4 316.3 L1262 284.9 L1268.5 260.2 L1273 245.5 L1274.5 241.1 L1276 237.5 L1278 234.3 L1279.5 232.6 L1282 231.4 L1284 231 L1285 231.3 L1286 231.9 L1287.5 233 L1288.5 234.2 L1291 237.9 L1293.5 243.2 L1295.5 248.6 L1297 253.7 L1298.5 260.5 L1301 273.7 L1310 325.2 L1318.5 378.3 L1321.3 397.3 L1327.5 448.6 L1329 462.5 L1330.5 478.8 L1332.5 505.9 L1334.2 521.5 L1335.5 529.6 L1337.6 539.4 L1339.5 546.7 L1342.5 556.5 L1346 566.2 L1348.5 571.7 L1350.5 575.2 L1352.5 578.1 L1355 581.1 L1358.5 584.4 L1361 586.3 L1366 588.3 L1368.5 589 L1371 589.5 L1377.5 589.8 L1394.5 590.2 L1400 590.6" fill="none" stroke="#8a68b9" stroke-width="5.83" stroke-linejoin="round" stroke-linecap="square"/>
<path d="M1040 590.6 L1077 590.4 L1114.5 589.7 L1126.5 589.2 L1137 588.5 L1140.5 588.2 L1144.5 587.4 L1153 584.9 L1157 583.3 L1165.5 578.9 L1171.5 575.2 L1176 571.7 L1185 563 L1189 558.7 L1192 554.7 L1196 548.6 L1199 543.6 L1201.5 539 L1203.5 534.7 L1210.5 517.6 L1213 510.5 L1215.5 502.6 L1218.5 491 L1226 458.5 L1231.5 436.1 L1233 428.2 L1236 406.1 L1237 399.9 L1246.5 350.2 L1248.5 341.4 L1252.9 324.7 L1257.5 306.5 L1262 290.1 L1268 269.7 L1270.5 262 L1274 252.3 L1276 248 L1278.5 244.5 L1279.5 243.6 L1281 242.6 L1282 242.2 L1283 242 L1285 242.4 L1287.5 243.7 L1289.5 245.9 L1292 250 L1294.5 255.5 L1296.5 261.2 L1298 266.9 L1299.5 274.1 L1310 331.5 L1316 367.5 L1321 399 L1328 454.6 L1332.5 502.1 L1335 522.6 L1337 533.1 L1339.5 543.1 L1342 551.4 L1346 562.7 L1348 567.4 L1350.5 572.4 L1352.5 575.7 L1354.5 578.5 L1357.5 581.9 L1361 585 L1363 586.4 L1365.5 587.5 L1370.5 589.1 L1374.5 589.6 L1387.5 590.1 L1420 590.6" fill="none" stroke="#80564c" stroke-width="5.83" stroke-linejoin="round" stroke-linecap="square"/>
<path d="M1050 590.6 L1084 590.3 L1119.5 589.6 L1131 589.1 L1141 588.4 L1144.5 587.9 L1148 587.1 L1156 584.6 L1160 583 L1168.5 578.4 L1174.5 574.5 L1179 570.7 L1188 561.5 L1192 556.9 L1195 552.5 L1201 542.3 L1203.5 537.4 L1205.5 533 L1212.5 514.5 L1215 506.8 L1217 499.9 L1219 491.7 L1227.5 453 L1232 434.8 L1233.5 427.9 L1235 419.5 L1237.5 400.7 L1239 391 L1249 338 L1251 329.2 L1256 309.8 L1265 271.5 L1270.5 249.9 L1273.5 239.9 L1275.5 234 L1276.8 231.3 L1279 228.2 L1279.9 227.4 L1281.5 226.6 L1283.7 226 L1284.5 226.3 L1286.5 228.1 L1289 231.3 L1291.5 236 L1293.5 241 L1295.2 246.1 L1296.5 251.1 L1300.5 272.1 L1309.5 324.6 L1317.5 375.3 L1320.5 396.2 L1326.5 446.7 L1328.5 465.1 L1329.5 476.8 L1331.5 507.5 L1333 522.2 L1334.5 531.4 L1337 542.9 L1339.5 552 L1342.5 561.6 L1346 570.3 L1347.5 573.3 L1349.5 576.5 L1352 579.8 L1355 582.9 L1358 585.6 L1360 586.8 L1365 588.6 L1369.5 589.5 L1380.5 590 L1410 590.6" fill="none" stroke="#cd7bc0" stroke-width="5.83" stroke-linejoin="round" stroke-linecap="square"/>
<path d="M1020 590.6 L1064.5 590.4 L1108.5 589.9 L1129.5 589 L1137.5 588.5 L1141.5 587.9 L1147.5 586.4 L1154.5 584.2 L1162.5 580.3 L1168.5 577 L1172.5 574.3 L1176 571.3 L1184.5 563.3 L1189 558.3 L1192 554.2 L1196.5 547.2 L1199 542.9 L1201.5 538 L1208.5 521.4 L1211 514.6 L1213.5 506.9 L1216.5 495.8 L1224 463 L1229.5 440.7 L1231 432.6 L1234 410.1 L1235.5 401.4 L1239.7 380.2 L1244 357 L1247.5 342.5 L1254 318.7 L1257 308.5 L1265.5 282.7 L1269 272.9 L1273 263.1 L1275.5 258.2 L1277.5 255.6 L1279 254.1 L1281 252.9 L1282.5 252.5 L1284.5 253.1 L1286 253.9 L1287 254.8 L1289.1 257.4 L1291 260.6 L1293 264.9 L1295.3 271.1 L1296.5 275.4 L1298 282.2 L1300.5 294.7 L1308.5 337.6 L1314.5 372.4 L1319.5 402.8 L1321 413.2 L1327 460.4 L1329.5 484.7 L1331.5 502.1 L1334.5 523 L1336.5 532.6 L1339.5 543.7 L1342.5 552.7 L1347 564.2 L1349.5 569.4 L1352 573.9 L1354.5 577.5 L1357 580.6 L1360 583.5 L1363 585.9 L1365 587 L1368.5 588.3 L1373.5 589.5 L1381 589.9 L1404.5 590.4 L1430 590.6" fill="none" stroke="#808080" stroke-width="5.83" stroke-linejoin="round" stroke-linecap="square"/>
<path d="M992.5 590.6 L1049 590.4 L1103.5 590 L1123 589.3 L1134 588.6 L1138 588.1 L1144 586.8 L1152 584.3 L1157.5 581.8 L1165.5 577.5 L1170 574.5 L1173.5 571.7 L1182 563.7 L1186.5 559 L1189.5 555.1 L1194 548.5 L1197.5 542.7 L1200 538 L1203.5 530.4 L1208 519.9 L1211 511.9 L1213.5 504.5 L1216 495.7 L1219 484 L1229.5 440.6 L1231.5 429.6 L1234 410.3 L1235 404 L1244 356.1 L1246.5 345 L1253 320.6 L1257 306.6 L1261.5 292.5 L1268 273.1 L1272.5 261.6 L1275 256.1 L1277 253.1 L1279.5 250.5 L1281.5 249.3 L1282.5 249 L1284 249.4 L1286.5 251.1 L1288.5 253.6 L1290.5 256.8 L1292.5 261 L1294.5 266.3 L1295.5 269.4 L1297 275.6 L1300 290.6 L1308 333.9 L1318 393.2 L1320.5 409.9 L1329.5 480.6 L1332 496.5 L1335 513.1 L1337.5 525 L1341 537.4 L1345 548.9 L1351 563 L1353.5 567.9 L1356.5 573 L1359.5 577.3 L1362.5 581 L1366 584.3 L1368.5 586.2 L1370.5 587.2 L1374.5 588.6 L1377 589.2 L1379.5 589.6 L1390 590 L1416 590.4 L1443.5 590.6" fill="none" stroke="#bcb838" stroke-width="5.83" stroke-linejoin="round" stroke-linecap="square"/>
</g>
<rect x="948.4" y="34.8" width="793.4" height="556.2" fill="none" stroke="#000" stroke-width="1.56"/>
<path d="M987 591.0 v6.8 M1082.5 591.0 v6.8 M1178 591.0 v6.8 M1273.5 591.0 v6.8 M1369 591.0 v6.8 M1464.5 591.0 v6.8 M1560 591.0 v6.8 M1655.5 591.0 v6.8 M948.4 591 h-6.8 M948.4 508.8 h-6.8 M948.4 426.6 h-6.8 M948.4 344.4 h-6.8 M948.4 262.2 h-6.8 M948.4 180 h-6.8 M948.4 97.8 h-6.8" stroke="#000" stroke-width="1.56" fill="none"/>
<g font-size="19.44" fill="#000">
<text x="987" y="619.5" text-anchor="middle">−5.0</text>
<text x="1082.5" y="619.5" text-anchor="middle">−2.5</text>
<text x="1178" y="619.5" text-anchor="middle">0.0</text>
<text x="1273.5" y="619.5" text-anchor="middle">2.5</text>
<text x="1369" y="619.5" text-anchor="middle">5.0</text>
<text x="1464.5" y="619.5" text-anchor="middle">7.5</text>
<text x="1560" y="619.5" text-anchor="middle">10.0</text>
<text x="1655.5" y="619.5" text-anchor="middle">12.5</text>
<text x="934.8" y="598.4" text-anchor="end">0.0</text>
<text x="934.8" y="516.2" text-anchor="end">0.1</text>
<text x="934.8" y="434" text-anchor="end">0.2</text>
<text x="934.8" y="351.8" text-anchor="end">0.3</text>
<text x="934.8" y="269.6" text-anchor="end">0.4</text>
<text x="934.8" y="187.4" text-anchor="end">0.5</text>
<text x="934.8" y="105.2" text-anchor="end">0.6</text>
</g>
<text x="1345.1" y="23.1" text-anchor="middle" font-size="27.2" fill="#000">logP</text>
<rect x="1464.5" y="44.5" width="267.5" height="258.8" rx="3.9" ry="3.9" fill="#fff" fill-opacity="0.8" stroke="#ccc" stroke-opacity="0.8" stroke-width="1.94"/>
<g font-size="19.44" fill="#000">
<path d="M1472.3 60 h38.9" stroke="#4878b0" stroke-width="5.83" stroke-linecap="square" fill="none"/>
<text x="1526.1" y="67.2" letter-spacing="-0.15">MOSES (0)</text>
<path d="M1472.3 88.2 h38.9" stroke="#e47e26" stroke-width="5.83" stroke-linecap="square" fill="none"/>
<text x="1526.1" y="95.3" letter-spacing="-0.15">HMM (0.77)</text>
<path d="M1472.3 116.3 h38.9" stroke="#5ea33a" stroke-width="5.83" stroke-linecap="square" fill="none"/>
<text x="1526.1" y="123.4" letter-spacing="-0.15">NGram (0.37)</text>
<path d="M1472.3 144.5 h38.9" stroke="#bd2a2e" stroke-width="5.83" stroke-linecap="square" fill="none"/>
<text x="1526.1" y="151.6" letter-spacing="-0.15">Combinatorial (0.76)</text>
<path d="M1472.3 172.7 h38.9" stroke="#8a68b9" stroke-width="5.83" stroke-linecap="square" fill="none"/>
<text x="1526.1" y="179.8" letter-spacing="-0.15">CharRNN (0.057)</text>
<path d="M1472.3 200.8 h38.9" stroke="#80564c" stroke-width="5.83" stroke-linecap="square" fill="none"/>
<text x="1526.1" y="207.9" letter-spacing="-0.15">AAE (0.055)</text>
<path d="M1472.3 228.9 h38.9" stroke="#cd7bc0" stroke-width="5.83" stroke-linecap="square" fill="none"/>
<text x="1526.1" y="236" letter-spacing="-0.15">VAE (0.023)</text>
<path d="M1472.3 257.1 h38.9" stroke="#808080" stroke-width="5.83" stroke-linecap="square" fill="none"/>
<text x="1526.1" y="264.2" letter-spacing="-0.15">JTN-VAE (0.069)</text>
<path d="M1472.3 285.2 h38.9" stroke="#bcb838" stroke-width="5.83" stroke-linecap="square" fill="none"/>
<text x="1526.1" y="292.3" letter-spacing="-0.15">LatentGAN (0.063)</text>
</g>
</g>
<g id="ax-QED">
<clipPath id="clip2"><rect x="30.0" y="702.1" width="811.8" height="556.1999999999999"/></clipPath>
<g clip-path="url(#clip2)">
<path d="M300 1257.9 L321.5 1257.6 L346.5 1256.8 L365.5 1255.9 L379.5 1254.6 L386.5 1253.8 L392 1252.7 L409 1248.5 L426 1244.9 L433.5 1243 L436.5 1242 L440 1240.4 L456 1231.9 L458.5 1230.8 L462 1229.8 L470.5 1228.4 L473.5 1227.5 L476.5 1225.7 L482 1221 L484.5 1219.2 L487.5 1217.6 L495 1214.5 L499 1212.2 L504 1208.3 L507.5 1204.6 L515.5 1193.4 L520 1185.7 L521.5 1183.9 L522.5 1183.2 L527 1181.8 L529 1181.5 L530.5 1181.5 L532.5 1182.4 L537 1185.7 L542 1187.5 L545 1188 L546.5 1187.7 L548.5 1186.4 L551 1184 L553.5 1181.2 L555 1178.8 L556.5 1175.9 L560 1167.9 L561.5 1163.3 L565 1150.7 L566 1148.2 L567.5 1145.3 L570 1141.2 L572 1139 L574 1137.7 L579 1135.7 L580.5 1134.6 L581.5 1133.5 L583 1131.3 L585 1127.4 L586.5 1123.7 L587.5 1119.9 L591.5 1099.2 L595.5 1076.2 L599 1059.1 L604.5 1034.7 L617.5 979.8 L622 961.6 L625 947.5 L629 922.9 L632 906.8 L633.3 898.6 L637.5 859 L640 839.2 L642.4 822.4 L645 805.9 L646.5 797.7 L648 791.6 L649.5 786.8 L650.5 784.6 L652 782.4 L652.5 782.2 L653 783.1 L656 794.2 L657.5 800.6 L658.5 806.1 L659.5 813.6 L664.5 860.3 L667.5 885.5 L668 887.8 L668.5 888.7 L670.3 888.4 L670.5 887.9 L671 885.3 L674.2 857.7 L678 817.4 L679.5 803.5 L685.5 756.1 L687 746.3 L688 742.1 L690 736.1 L691.5 732.8 L692 732.3 L692.5 732.9 L693 734.4 L695.5 743.1 L701 764.3 L705.5 783.5 L710.5 807.7 L713.5 820.1 L717 832.6 L721 844.2 L723 849.1 L724.5 852.1 L727.5 856.4 L728.5 857.1 L729 857.2 L729.5 856.9 L730.5 854.8 L733 845.8 L734 842.9 L734.5 842.1 L735 841.8 L735.5 842.1 L736 842.9 L737 846 L740 859.3 L742 873 L743.5 890.3 L746 926.7 L750 990 L755 1055.8 L758.5 1105.7 L760.5 1128 L766 1182.9 L774 1239.4 L775.5 1248.2 L776.5 1252.3 L778 1256.2 L779 1257.7 L779.5 1257.9 L790 1257.9 L790 1258.3 L300 1258.3 Z" fill="#4878b0" fill-opacity="0.25"/>
<path d="M240 1257.9 L280 1257.3 L294.5 1255.6 L296 1255.1 L310 1247.5 L319.5 1240.4 L320.5 1239.5 L330 1227.5 L337 1209 L338 1205.4 L342.5 1185 L347.5 1157.5 L352 1135 L357.5 1110 L362.5 1095 L370 1080 L374.5 1066.6 L375.5 1062.7 L380 1040 L382.5 1023 L386 987.5 L390 937.5 L397.5 837.5 L401 800 L405 766 L408 761 L412.5 754.5 L414 760 L418 785 L427 855 L430.5 878.7 L435.7 884.5 L436.5 885.7 L437 886 L439 879 L442.5 860 L446 830 L450 800 L455 767.9 L455.5 765.5 L459 762 L462.5 760 L464 765 L468.5 796.6 L472.5 830 L476 870 L480 905 L482.5 925 L487.5 950 L495 975 L505 995 L515 1017.5 L545 1107.5 L555 1130 L567 1146.9 L568.5 1148.4 L583 1160.4 L600 1172.5 L620 1185 L639.5 1198.3 L660 1215 L690.5 1234.3 L710 1243 L729 1249.7 L731.5 1250.4 L749.5 1254.4 L764.5 1256.4 L779.5 1257.5 L795 1257.9 L795 1258.3 L240 1258.3 Z" fill="#e47e26" fill-opacity="0.25"/>
<path d="M64 1257.9 L112 1257.5 L169.5 1256.6 L286 1253 L324 1251.3 L336.5 1250.5 L347.5 1249.5 L354 1248.7 L360.5 1247.6 L367.5 1246 L372 1244.6 L377 1242.7 L383 1239.7 L387.5 1236.9 L392 1233.5 L397 1229.2 L401 1225.2 L405 1220.6 L409 1215.5 L412.5 1210.3 L416 1204.5 L421 1195.7 L424.5 1189 L442.5 1151.7 L446.5 1142.3 L454.5 1121.2 L460 1107.7 L462.5 1102.1 L464.5 1098.3 L466.5 1095.2 L469 1091.6 L471.5 1088.5 L475 1085 L479 1082.1 L486.5 1077.9 L495 1073.6 L500 1070.8 L503.5 1068.6 L506 1066.6 L509 1063.5 L513 1058.5 L518.5 1051.1 L523.5 1043.6 L525.5 1040.8 L527 1039.2 L529.5 1037.1 L533 1034.9 L538 1032.3 L547.5 1028.7 L551.5 1026.6 L555 1024.1 L560.5 1019.6 L567 1013.3 L570 1011 L573.5 1009.3 L581.5 1006.4 L588 1003.5 L593 1000.8 L597 998 L600.5 994.7 L606 988.9 L613.5 980.2 L618.5 973.6 L626.5 961.4 L634 951.7 L636.5 949.2 L640.5 946.6 L643 945.4 L645 945 L646.5 945.2 L648 945.9 L650 947.1 L653 949.4 L655 951.7 L660 958.5 L664.5 963.6 L668 967.2 L672 970.5 L681.5 976.7 L687 981.4 L689.5 983.9 L692 986.8 L693.5 989 L695.5 992.6 L700.5 1003.7 L704.5 1014.1 L712 1035.8 L729 1086.8 L733 1100.1 L748 1152.9 L759.5 1194.4 L768 1222 L774 1239.5 L776 1244 L778.5 1248.3 L781 1251.6 L783 1253.2 L786.5 1255.3 L789.5 1256.4 L795.5 1257.6 L800 1257.9 L800 1258.3 L64 1258.3 Z" fill="#5ea33a" fill-opacity="0.25"/>
<path d="M85 1257.9 L103 1257.6 L121.5 1257 L150.5 1254.9 L158 1254 L162 1253.2 L165.5 1251.9 L189 1241.4 L209 1233 L214 1230.6 L225 1224.8 L230 1222.5 L236 1220.1 L250.5 1214.8 L269 1207.3 L279 1203.9 L306.5 1195.9 L313 1194.3 L328 1191.5 L336.5 1189.1 L352 1183.2 L397 1163.6 L402.5 1161.7 L416 1158 L420 1156.5 L424 1154.7 L430 1151.5 L435 1148.3 L455 1131.2 L458.5 1128.5 L461.5 1126.5 L467 1124 L478.5 1120.3 L483.5 1118.2 L487.5 1116.2 L496.5 1110.9 L500.5 1108.8 L517.5 1101.2 L531 1094.8 L535.5 1092.3 L539 1089.9 L542 1087.3 L545 1084.4 L554.5 1073.6 L594 1020.3 L600 1013.1 L606.5 1006 L610 1002.6 L613.5 999.7 L618.5 996 L623 993.1 L626.5 991.4 L632.5 989.2 L636 988.3 L638.7 988 L641 988.3 L643.5 989.1 L647.5 991 L649 992.2 L651.5 995.3 L664 1015.3 L667.5 1020 L672 1024.4 L677 1028.3 L680 1030.3 L687 1033.9 L690 1036 L691.5 1037.4 L693.5 1039.8 L697.5 1045.7 L700.5 1050.9 L703 1056.5 L710 1075 L739.5 1148.7 L749 1174.6 L758.5 1202.8 L765 1220 L769.5 1232.7 L773.5 1242.3 L776 1246.5 L779 1250.2 L781.5 1252.4 L785.5 1254.9 L788.5 1256.1 L791.5 1256.8 L798 1257.6 L803.5 1257.9 L803.5 1258.3 L85 1258.3 Z" fill="#bd2a2e" fill-opacity="0.25"/>
<path d="M260 1257.9 L301 1257.7 L319.5 1257.4 L349.5 1256.2 L362.5 1255.5 L371.5 1254.8 L383 1253.6 L390 1252.5 L409.5 1247.6 L425.5 1244.2 L432 1242.6 L436 1241.3 L439.5 1239.8 L456 1231 L458.5 1229.9 L462 1228.9 L470.5 1227.5 L473.5 1226.6 L476.5 1224.6 L482 1219.8 L484.5 1217.9 L487.5 1216.3 L495 1212.7 L498.5 1210.6 L503 1207 L507 1202.8 L510 1198.7 L515.5 1190.5 L520.5 1181.9 L522 1180.1 L524 1178.8 L527.5 1177.3 L529 1176.9 L530.5 1176.9 L532 1177.3 L535.5 1179.3 L537 1180 L542 1180.8 L545.5 1181 L547 1180.4 L548.5 1179.4 L553 1174.9 L554.5 1172.7 L556 1169.9 L560 1160.9 L561.5 1156.3 L565 1143.7 L566 1141.2 L568 1137.4 L570 1134.2 L572 1132 L574 1130.7 L579 1128.6 L580.5 1127.6 L582 1126.1 L584 1123.4 L585.5 1120.6 L586.5 1118.3 L587.5 1114.8 L591.5 1095.1 L595.5 1073.1 L598.5 1058.9 L604.5 1033.1 L617.5 979.2 L622 961.3 L625 947.5 L629 924.2 L632 909.1 L633.3 901.3 L634.5 891.6 L637.4 864 L641.5 834.5 L645 814.1 L646.5 807 L647.4 803.8 L649 799.4 L650 797.4 L651.5 795.4 L652 795 L652.5 794.9 L653 795.4 L653.5 796.6 L657 806.9 L658.2 811.7 L659 816.3 L664 855.1 L666.5 871.4 L668 879.3 L669 883.1 L670 885.9 L670.3 886.1 L670.5 885.9 L671 884.6 L671.5 882.2 L673 873.8 L675.5 857.4 L683.5 792.2 L688 758.9 L689 753.3 L690.5 747 L693 739 L693.5 738.3 L694 738.6 L694.5 739.2 L697 744.1 L699 749.7 L700.5 754.9 L702 761.9 L709 798.8 L711.5 810.9 L716 829.8 L720 843.5 L723.5 853.6 L728 864.9 L728.5 865.7 L729.5 866.6 L731 867.2 L733.5 868 L735 868.8 L735.5 869.2 L736.5 870.8 L738 874.3 L740 879.8 L741 883.3 L742 888 L743 896.7 L745.5 929.3 L750 994 L755 1058.5 L758.5 1107.6 L760 1124.3 L764.5 1169.3 L766.5 1186.7 L770 1209.5 L774 1238.6 L776 1249.8 L777 1253 L778.5 1256.5 L779 1257.1 L779.5 1257.4 L785 1257.8 L792 1257.9 L792 1258.3 L260 1258.3 Z" fill="#8a68b9" fill-opacity="0.25"/>
<path d="M240 1257.9 L273 1256.8 L311.5 1255.1 L336.5 1253.9 L356 1252.6 L370.5 1251.4 L383 1249.8 L390.5 1248.4 L399.5 1246.1 L423.5 1239.3 L429 1237.5 L434 1235.6 L437 1234.2 L440 1232.5 L455.5 1222.2 L458.5 1220.4 L462 1219 L470.5 1216.8 L474 1215.3 L476.5 1213.6 L482.5 1208.4 L485 1206.5 L489 1204 L502 1196.5 L506 1193.7 L510 1190 L515 1184.5 L520 1177.3 L521.5 1175.5 L523.5 1173.9 L526.5 1172.1 L528.5 1171.3 L530.5 1171.1 L532 1171.5 L535.5 1173.2 L537 1173.6 L545 1174 L546 1173.8 L547 1173.3 L549 1171.3 L552.5 1166.8 L554 1164.4 L555.5 1161.5 L557.5 1157 L560.5 1149 L565 1132.3 L566 1129.5 L568 1125.3 L570.5 1121.1 L573 1117.8 L579 1112.1 L582.5 1107.8 L585 1103.6 L586 1101.4 L587 1098.3 L588.5 1091.6 L591.5 1075.9 L597 1045.8 L600.5 1029.3 L604 1014 L615.5 968.1 L618 959.2 L622.5 945.1 L624.5 938.1 L629 918.3 L633 903.4 L634.5 895.4 L637.4 876.7 L639.5 865.4 L645.5 834.6 L647 828.4 L648 825.7 L650 821.8 L651.5 819.8 L652 819.4 L652.5 819.2 L653.5 819.8 L655.5 821.9 L657 824.5 L658.2 827.4 L659.5 833.4 L664.5 866.8 L667 880.5 L668 884.8 L669.5 889.1 L670 889.9 L670.3 890.1 L670.5 889.9 L671 888.6 L673.5 874.9 L675 865 L681 817 L687.5 772.6 L688.5 767 L690 760.7 L692.5 753.1 L693 751.9 L693.5 751.3 L694 751.6 L694.5 752.2 L697 757.1 L698.5 761.2 L700.5 767.8 L711 818.2 L715.5 837.2 L717 842.9 L719 849.3 L723 860.1 L726.5 867.9 L728 870.8 L729 872 L730 872.7 L733 873.8 L734.5 874.6 L735.5 875.6 L736 876.6 L738 882.7 L740 890 L741 894.4 L742 900 L743 908.3 L745.5 936.9 L755 1060 L758 1102.3 L760 1125.3 L766 1183.3 L770 1209.5 L774 1238.6 L776 1249.8 L777.5 1254.3 L778.5 1256.5 L779 1257.1 L779.5 1257.4 L784.5 1257.7 L796 1257.9 L796 1258.3 L240 1258.3 Z" fill="#80564c" fill-opacity="0.25"/>
<path d="M280 1257.9 L307.5 1257.9 L328 1257.5 L361 1256.2 L374.5 1255.2 L385.5 1253.9 L391 1253 L409.5 1248.4 L425.5 1245 L433 1243.1 L436.5 1242 L440 1240.4 L456 1231.9 L458.5 1230.8 L462 1229.8 L470.5 1228.4 L473.5 1227.5 L476.5 1225.7 L482 1220.9 L484.5 1219.1 L487.5 1217.5 L495 1214.2 L499 1211.8 L504 1207.8 L507.5 1204 L515.5 1192.6 L520.5 1184.1 L522 1182.4 L523.5 1181.5 L525.5 1180.5 L527.5 1179.8 L529 1179.5 L530.5 1179.4 L532.5 1180.2 L535.5 1182 L537 1182.7 L542 1183.8 L545.5 1184 L547 1183.5 L548.5 1182.5 L553 1178.1 L554.5 1176 L556 1173.3 L560 1164.3 L561.5 1159.8 L565 1147.3 L566 1144.8 L568 1141 L570 1137.9 L572 1135.7 L574 1134.5 L579 1132.6 L580.5 1131.6 L581.5 1130.6 L583 1128.6 L584.5 1125.9 L586 1122.7 L587 1119.6 L588.5 1113 L591.5 1097.4 L596 1072.2 L599 1057.9 L604.5 1033.9 L622 961.3 L625 947.6 L629 925.5 L632 911.4 L633.3 904.1 L634.5 894.8 L637.4 868.2 L640 849 L642 836 L646 813.2 L647.4 807.5 L649 802.9 L650 800.7 L651 799.1 L652 797.8 L652.5 797.7 L653 798.1 L653.5 799 L655.5 803.4 L657.5 809 L659 815.7 L664.5 856.4 L667 871.6 L668.5 878.2 L670 882.4 L670.7 883.1 L671 882.8 L671.5 881.5 L675 864.8 L678 846.4 L682.5 813.9 L690.5 752.5 L691.5 746.7 L693 739.7 L695 731.6 L695.6 730.3 L696.5 730.5 L697.6 731.3 L698.5 732.6 L700 737 L702.1 745.5 L703.5 752.4 L707 773.8 L713 807 L717.5 826.9 L719.5 834.4 L721.5 840.9 L725 850.7 L728.5 858.6 L729.5 860.3 L730 860.7 L730.5 860.7 L731.5 859.9 L734 855.9 L735 854.6 L735.8 854.2 L736.5 854.9 L737 855.9 L738 859.1 L740 867.1 L741 871.9 L742.2 880 L743 887.8 L750 992 L755 1057 L758.5 1106.4 L760.5 1128.4 L766 1182.5 L770 1209.5 L774 1238.6 L775.5 1247.4 L776.5 1251.6 L778 1255.5 L779 1257.1 L779.5 1257.4 L785 1257.8 L791 1257.9 L791 1258.3 L280 1258.3 Z" fill="#cd7bc0" fill-opacity="0.25"/>
<path d="M230 1257.9 L312 1257.6 L337.5 1256.7 L366.5 1255.2 L379 1254.1 L389 1252.7 L395 1251.4 L410 1247.5 L430 1243.1 L435.5 1241.5 L439 1240.1 L456 1231 L458.5 1229.9 L462 1228.9 L470.5 1227.5 L473.5 1226.6 L476.5 1224.6 L482.5 1219.2 L484.5 1217.6 L487.5 1215.8 L494.5 1212.1 L497.5 1210.2 L502.5 1206.1 L506.5 1201.8 L509.5 1197.6 L515.5 1188.4 L520.5 1179.4 L522 1177.5 L525 1175.5 L528 1174.1 L529.5 1173.8 L530.5 1173.8 L532 1174.2 L535.5 1175.9 L537 1176.5 L541.5 1176.9 L545.5 1177 L547.5 1176.1 L550.5 1173.3 L553 1170.4 L554.5 1168.1 L556 1165.3 L558 1160.9 L561 1153.1 L565 1138.6 L566 1136 L568.5 1131.2 L570.5 1128.1 L572.5 1126 L574.5 1124.7 L579.5 1122.4 L581.5 1120.8 L583 1119.3 L584.5 1117.3 L586 1114.8 L587.5 1110.3 L591.5 1091.4 L595.5 1070.2 L598 1058.7 L604.5 1031.5 L623 956.6 L625 947.7 L629 927.7 L632.5 912.8 L634 903.8 L637 877.8 L640.5 853.8 L645 828.4 L646.5 821.6 L647.4 818.6 L648.5 815.8 L650 812.9 L651.5 811 L652 810.6 L652.5 810.5 L653 810.9 L653.5 811.6 L655.5 815.4 L657.5 820.4 L658.5 824 L659.5 829.7 L664.5 867 L667 882.8 L668 887.8 L669.5 892.9 L670.5 894.9 L670.8 895 L671 894.9 L671.5 893.7 L672 891.8 L674 882.1 L677.5 862 L682.5 826.8 L687.5 788.5 L691 764.9 L693 756.4 L695.5 749.4 L696.2 748.3 L698.2 748.1 L699 748.4 L699.5 748.9 L701 751.1 L703 755.3 L704 758.4 L708.5 778.9 L713.5 803.5 L717 816.9 L719.5 824.7 L721 828.3 L723 832.2 L730 843.2 L730.9 843.8 L736 843.2 L736.5 843.7 L737 844.8 L738 848.7 L741 864.2 L742.5 874.5 L744 887.5 L747 920.4 L751 974 L758.5 1087.2 L764.5 1155.9 L766 1171.2 L767.5 1183.8 L773.5 1228.9 L775.5 1241.6 L776.5 1246.1 L777.5 1249 L778.5 1251.3 L779.5 1252.6 L784 1254.9 L789 1256.6 L794 1257.6 L799 1257.9 L799 1258.3 L230 1258.3 Z" fill="#808080" fill-opacity="0.25"/>
<path d="M206 1257.9 L253 1257.6 L307 1256.9 L334 1255.9 L363.5 1254.3 L377 1253 L388.5 1251.4 L395 1250 L410 1246 L429 1241.8 L435 1240 L438.5 1238.6 L456 1229.2 L458.5 1228 L462 1227 L470.5 1225.5 L473.5 1224.6 L476.5 1222.6 L482.5 1217 L485 1215 L496.5 1207.9 L501.5 1203.7 L506 1198.8 L509.5 1193.8 L515 1185 L519.5 1176.6 L521 1174.2 L522.5 1172.5 L526 1170 L528 1169.1 L530 1168.7 L531.5 1168.9 L535.5 1170.6 L537 1171 L545.5 1171 L547.5 1170.1 L550 1167.8 L552.5 1165 L554 1162.9 L555.5 1160.3 L557.5 1156.1 L560.5 1148.6 L564 1135.9 L565.5 1131.2 L567 1128 L569 1124.3 L571 1121.5 L572.5 1120 L574.5 1118.7 L579.5 1116.3 L582 1114.5 L583.5 1113.2 L586 1110 L586.5 1109 L587.5 1105.9 L591.5 1087.7 L595.5 1067.3 L598 1056.3 L617 980 L622 960.8 L625 947.5 L629 925 L632 910.5 L633.3 903 L638.5 857.8 L641.5 835.8 L645 812.7 L647 801.7 L649.5 792.6 L651.5 787.7 L652 786.8 L652.5 786.6 L653 787 L653.5 787.9 L655.5 792.1 L657 795.9 L658 799.2 L659 804.1 L664 840.1 L666.5 855 L668 862.2 L669 865.7 L670 868.3 L670.3 868.5 L670.5 868.4 L671 867.5 L671.5 865.9 L673 860 L675.5 847.1 L683.5 792.7 L688 764.6 L689 760 L690.5 754.9 L692.5 749.8 L693 748.8 L693.5 748.3 L694 748.6 L694.5 749.2 L697 754.1 L698.5 758.2 L700.5 764.8 L711 814.4 L715.5 832.5 L720 848.1 L723.5 858.8 L728 871 L729 873 L730 874.4 L733 877.3 L734.5 879.2 L736 882.3 L738.5 891 L741 902 L742 908 L743 916.2 L746 949 L754.5 1056 L758.7 1112.5 L760.5 1131.2 L765.5 1178.5 L767 1189.3 L770 1207.5 L774 1236.8 L776 1248.2 L777.5 1252.7 L779 1255.5 L780 1256.3 L782 1257.3 L783.5 1257.7 L785 1257.9 L785 1258.3 L206 1258.3 Z" fill="#bcb838" fill-opacity="0.25"/>
<path d="M300 1257.9 L321.5 1257.6 L346.5 1256.8 L365.5 1255.9 L379.5 1254.6 L386.5 1253.8 L392 1252.7 L409 1248.5 L426 1244.9 L433.5 1243 L436.5 1242 L440 1240.4 L456 1231.9 L458.5 1230.8 L462 1229.8 L470.5 1228.4 L473.5 1227.5 L476.5 1225.7 L482 1221 L484.5 1219.2 L487.5 1217.6 L495 1214.5 L499 1212.2 L504 1208.3 L507.5 1204.6 L515.5 1193.4 L520 1185.7 L521.5 1183.9 L522.5 1183.2 L527 1181.8 L529 1181.5 L530.5 1181.5 L532.5 1182.4 L537 1185.7 L542 1187.5 L545 1188 L546.5 1187.7 L548.5 1186.4 L551 1184 L553.5 1181.2 L555 1178.8 L556.5 1175.9 L560 1167.9 L561.5 1163.3 L565 1150.7 L566 1148.2 L567.5 1145.3 L570 1141.2 L572 1139 L574 1137.7 L579 1135.7 L580.5 1134.6 L581.5 1133.5 L583 1131.3 L585 1127.4 L586.5 1123.7 L587.5 1119.9 L591.5 1099.2 L595.5 1076.2 L599 1059.1 L604.5 1034.7 L617.5 979.8 L622 961.6 L625 947.5 L629 922.9 L632 906.8 L633.3 898.6 L637.5 859 L640 839.2 L642.4 822.4 L645 805.9 L646.5 797.7 L648 791.6 L649.5 786.8 L650.5 784.6 L652 782.4 L652.5 782.2 L653 783.1 L656 794.2 L657.5 800.6 L658.5 806.1 L659.5 813.6 L664.5 860.3 L667.5 885.5 L668 887.8 L668.5 888.7 L670.3 888.4 L670.5 887.9 L671 885.3 L674.2 857.7 L678 817.4 L679.5 803.5 L685.5 756.1 L687 746.3 L688 742.1 L690 736.1 L691.5 732.8 L692 732.3 L692.5 732.9 L693 734.4 L695.5 743.1 L701 764.3 L705.5 783.5 L710.5 807.7 L713.5 820.1 L717 832.6 L721 844.2 L723 849.1 L724.5 852.1 L727.5 856.4 L728.5 857.1 L729 857.2 L729.5 856.9 L730.5 854.8 L733 845.8 L734 842.9 L734.5 842.1 L735 841.8 L735.5 842.1 L736 842.9 L737 846 L740 859.3 L742 873 L743.5 890.3 L746 926.7 L750 990 L755 1055.8 L758.5 1105.7 L760.5 1128 L766 1182.9 L774 1239.4 L775.5 1248.2 L776.5 1252.3 L778 1256.2 L779 1257.7 L779.5 1257.9 L790 1257.9" fill="none" stroke="#4878b0" stroke-width="5.83" stroke-linejoin="round" stroke-linecap="square"/>
<path d="M240 1257.9 L280 1257.3 L294.5 1255.6 L296 1255.1 L310 1247.5 L319.5 1240.4 L320.5 1239.5 L330 1227.5 L337 1209 L338 1205.4 L342.5 1185 L347.5 1157.5 L352 1135 L357.5 1110 L362.5 1095 L370 1080 L374.5 1066.6 L375.5 1062.7 L380 1040 L382.5 1023 L386 987.5 L390 937.5 L397.5 837.5 L401 800 L405 766 L408 761 L412.5 754.5 L414 760 L418 785 L427 855 L430.5 878.7 L435.7 884.5 L436.5 885.7 L437 886 L439 879 L442.5 860 L446 830 L450 800 L455 767.9 L455.5 765.5 L459 762 L462.5 760 L464 765 L468.5 796.6 L472.5 830 L476 870 L480 905 L482.5 925 L487.5 950 L495 975 L505 995 L515 1017.5 L545 1107.5 L555 1130 L567 1146.9 L568.5 1148.4 L583 1160.4 L600 1172.5 L620 1185 L639.5 1198.3 L660 1215 L690.5 1234.3 L710 1243 L729 1249.7 L731.5 1250.4 L749.5 1254.4 L764.5 1256.4 L779.5 1257.5 L795 1257.9" fill="none" stroke="#e47e26" stroke-width="5.83" stroke-linejoin="round" stroke-linecap="square"/>
<path d="M64 1257.9 L112 1257.5 L169.5 1256.6 L286 1253 L324 1251.3 L336.5 1250.5 L347.5 1249.5 L354 1248.7 L360.5 1247.6 L367.5 1246 L372 1244.6 L377 1242.7 L383 1239.7 L387.5 1236.9 L392 1233.5 L397 1229.2 L401 1225.2 L405 1220.6 L409 1215.5 L412.5 1210.3 L416 1204.5 L421 1195.7 L424.5 1189 L442.5 1151.7 L446.5 1142.3 L454.5 1121.2 L460 1107.7 L462.5 1102.1 L464.5 1098.3 L466.5 1095.2 L469 1091.6 L471.5 1088.5 L475 1085 L479 1082.1 L486.5 1077.9 L495 1073.6 L500 1070.8 L503.5 1068.6 L506 1066.6 L509 1063.5 L513 1058.5 L518.5 1051.1 L523.5 1043.6 L525.5 1040.8 L527 1039.2 L529.5 1037.1 L533 1034.9 L538 1032.3 L547.5 1028.7 L551.5 1026.6 L555 1024.1 L560.5 1019.6 L567 1013.3 L570 1011 L573.5 1009.3 L581.5 1006.4 L588 1003.5 L593 1000.8 L597 998 L600.5 994.7 L606 988.9 L613.5 980.2 L618.5 973.6 L626.5 961.4 L634 951.7 L636.5 949.2 L640.5 946.6 L643 945.4 L645 945 L646.5 945.2 L648 945.9 L650 947.1 L653 949.4 L655 951.7 L660 958.5 L664.5 963.6 L668 967.2 L672 970.5 L681.5 976.7 L687 981.4 L689.5 983.9 L692 986.8 L693.5 989 L695.5 992.6 L700.5 1003.7 L704.5 1014.1 L712 1035.8 L729 1086.8 L733 1100.1 L748 1152.9 L759.5 1194.4 L768 1222 L774 1239.5 L776 1244 L778.5 1248.3 L781 1251.6 L783 1253.2 L786.5 1255.3 L789.5 1256.4 L795.5 1257.6 L800 1257.9" fill="none" stroke="#5ea33a" stroke-width="5.83" stroke-linejoin="round" stroke-linecap="square"/>
<path d="M85 1257.9 L103 1257.6 L121.5 1257 L150.5 1254.9 L158 1254 L162 1253.2 L165.5 1251.9 L189 1241.4 L209 1233 L214 1230.6 L225 1224.8 L230 1222.5 L236 1220.1 L250.5 1214.8 L269 1207.3 L279 1203.9 L306.5 1195.9 L313 1194.3 L328 1191.5 L336.5 1189.1 L352 1183.2 L397 1163.6 L402.5 1161.7 L416 1158 L420 1156.5 L424 1154.7 L430 1151.5 L435 1148.3 L455 1131.2 L458.5 1128.5 L461.5 1126.5 L467 1124 L478.5 1120.3 L483.5 1118.2 L487.5 1116.2 L496.5 1110.9 L500.5 1108.8 L517.5 1101.2 L531 1094.8 L535.5 1092.3 L539 1089.9 L542 1087.3 L545 1084.4 L554.5 1073.6 L594 1020.3 L600 1013.1 L606.5 1006 L610 1002.6 L613.5 999.7 L618.5 996 L623 993.1 L626.5 991.4 L632.5 989.2 L636 988.3 L638.7 988 L641 988.3 L643.5 989.1 L647.5 991 L649 992.2 L651.5 995.3 L664 1015.3 L667.5 1020 L672 1024.4 L677 1028.3 L680 1030.3 L687 1033.9 L690 1036 L691.5 1037.4 L693.5 1039.8 L697.5 1045.7 L700.5 1050.9 L703 1056.5 L710 1075 L739.5 1148.7 L749 1174.6 L758.5 1202.8 L765 1220 L769.5 1232.7 L773.5 1242.3 L776 1246.5 L779 1250.2 L781.5 1252.4 L785.5 1254.9 L788.5 1256.1 L791.5 1256.8 L798 1257.6 L803.5 1257.9" fill="none" stroke="#bd2a2e" stroke-width="5.83" stroke-linejoin="round" stroke-linecap="square"/>
<path d="M260 1257.9 L301 1257.7 L319.5 1257.4 L349.5 1256.2 L362.5 1255.5 L371.5 1254.8 L383 1253.6 L390 1252.5 L409.5 1247.6 L425.5 1244.2 L432 1242.6 L436 1241.3 L439.5 1239.8 L456 1231 L458.5 1229.9 L462 1228.9 L470.5 1227.5 L473.5 1226.6 L476.5 1224.6 L482 1219.8 L484.5 1217.9 L487.5 1216.3 L495 1212.7 L498.5 1210.6 L503 1207 L507 1202.8 L510 1198.7 L515.5 1190.5 L520.5 1181.9 L522 1180.1 L524 1178.8 L527.5 1177.3 L529 1176.9 L530.5 1176.9 L532 1177.3 L535.5 1179.3 L537 1180 L542 1180.8 L545.5 1181 L547 1180.4 L548.5 1179.4 L553 1174.9 L554.5 1172.7 L556 1169.9 L560 1160.9 L561.5 1156.3 L565 1143.7 L566 1141.2 L568 1137.4 L570 1134.2 L572 1132 L574 1130.7 L579 1128.6 L580.5 1127.6 L582 1126.1 L584 1123.4 L585.5 1120.6 L586.5 1118.3 L587.5 1114.8 L591.5 1095.1 L595.5 1073.1 L598.5 1058.9 L604.5 1033.1 L617.5 979.2 L622 961.3 L625 947.5 L629 924.2 L632 909.1 L633.3 901.3 L634.5 891.6 L637.4 864 L641.5 834.5 L645 814.1 L646.5 807 L647.4 803.8 L649 799.4 L650 797.4 L651.5 795.4 L652 795 L652.5 794.9 L653 795.4 L653.5 796.6 L657 806.9 L658.2 811.7 L659 816.3 L664 855.1 L666.5 871.4 L668 879.3 L669 883.1 L670 885.9 L670.3 886.1 L670.5 885.9 L671 884.6 L671.5 882.2 L673 873.8 L675.5 857.4 L683.5 792.2 L688 758.9 L689 753.3 L690.5 747 L693 739 L693.5 738.3 L694 738.6 L694.5 739.2 L697 744.1 L699 749.7 L700.5 754.9 L702 761.9 L709 798.8 L711.5 810.9 L716 829.8 L720 843.5 L723.5 853.6 L728 864.9 L728.5 865.7 L729.5 866.6 L731 867.2 L733.5 868 L735 868.8 L735.5 869.2 L736.5 870.8 L738 874.3 L740 879.8 L741 883.3 L742 888 L743 896.7 L745.5 929.3 L750 994 L755 1058.5 L758.5 1107.6 L760 1124.3 L764.5 1169.3 L766.5 1186.7 L770 1209.5 L774 1238.6 L776 1249.8 L777 1253 L778.5 1256.5 L779 1257.1 L779.5 1257.4 L785 1257.8 L792 1257.9" fill="none" stroke="#8a68b9" stroke-width="5.83" stroke-linejoin="round" stroke-linecap="square"/>
<path d="M240 1257.9 L273 1256.8 L311.5 1255.1 L336.5 1253.9 L356 1252.6 L370.5 1251.4 L383 1249.8 L390.5 1248.4 L399.5 1246.1 L423.5 1239.3 L429 1237.5 L434 1235.6 L437 1234.2 L440 1232.5 L455.5 1222.2 L458.5 1220.4 L462 1219 L470.5 1216.8 L474 1215.3 L476.5 1213.6 L482.5 1208.4 L485 1206.5 L489 1204 L502 1196.5 L506 1193.7 L510 1190 L515 1184.5 L520 1177.3 L521.5 1175.5 L523.5 1173.9 L526.5 1172.1 L528.5 1171.3 L530.5 1171.1 L532 1171.5 L535.5 1173.2 L537 1173.6 L545 1174 L546 1173.8 L547 1173.3 L549 1171.3 L552.5 1166.8 L554 1164.4 L555.5 1161.5 L557.5 1157 L560.5 1149 L565 1132.3 L566 1129.5 L568 1125.3 L570.5 1121.1 L573 1117.8 L579 1112.1 L582.5 1107.8 L585 1103.6 L586 1101.4 L587 1098.3 L588.5 1091.6 L591.5 1075.9 L597 1045.8 L600.5 1029.3 L604 1014 L615.5 968.1 L618 959.2 L622.5 945.1 L624.5 938.1 L629 918.3 L633 903.4 L634.5 895.4 L637.4 876.7 L639.5 865.4 L645.5 834.6 L647 828.4 L648 825.7 L650 821.8 L651.5 819.8 L652 819.4 L652.5 819.2 L653.5 819.8 L655.5 821.9 L657 824.5 L658.2 827.4 L659.5 833.4 L664.5 866.8 L667 880.5 L668 884.8 L669.5 889.1 L670 889.9 L670.3 890.1 L670.5 889.9 L671 888.6 L673.5 874.9 L675 865 L681 817 L687.5 772.6 L688.5 767 L690 760.7 L692.5 753.1 L693 751.9 L693.5 751.3 L694 751.6 L694.5 752.2 L697 757.1 L698.5 761.2 L700.5 767.8 L711 818.2 L715.5 837.2 L717 842.9 L719 849.3 L723 860.1 L726.5 867.9 L728 870.8 L729 872 L730 872.7 L733 873.8 L734.5 874.6 L735.5 875.6 L736 876.6 L738 882.7 L740 890 L741 894.4 L742 900 L743 908.3 L745.5 936.9 L755 1060 L758 1102.3 L760 1125.3 L766 1183.3 L770 1209.5 L774 1238.6 L776 1249.8 L777.5 1254.3 L778.5 1256.5 L779 1257.1 L779.5 1257.4 L784.5 1257.7 L796 1257.9" fill="none" stroke="#80564c" stroke-width="5.83" stroke-linejoin="round" stroke-linecap="square"/>
<path d="M280 1257.9 L307.5 1257.9 L328 1257.5 L361 1256.2 L374.5 1255.2 L385.5 1253.9 L391 1253 L409.5 1248.4 L425.5 1245 L433 1243.1 L436.5 1242 L440 1240.4 L456 1231.9 L458.5 1230.8 L462 1229.8 L470.5 1228.4 L473.5 1227.5 L476.5 1225.7 L482 1220.9 L484.5 1219.1 L487.5 1217.5 L495 1214.2 L499 1211.8 L504 1207.8 L507.5 1204 L515.5 1192.6 L520.5 1184.1 L522 1182.4 L523.5 1181.5 L525.5 1180.5 L527.5 1179.8 L529 1179.5 L530.5 1179.4 L532.5 1180.2 L535.5 1182 L537 1182.7 L542 1183.8 L545.5 1184 L547 1183.5 L548.5 1182.5 L553 1178.1 L554.5 1176 L556 1173.3 L560 1164.3 L561.5 1159.8 L565 1147.3 L566 1144.8 L568 1141 L570 1137.9 L572 1135.7 L574 1134.5 L579 1132.6 L580.5 1131.6 L581.5 1130.6 L583 1128.6 L584.5 1125.9 L586 1122.7 L587 1119.6 L588.5 1113 L591.5 1097.4 L596 1072.2 L599 1057.9 L604.5 1033.9 L622 961.3 L625 947.6 L629 925.5 L632 911.4 L633.3 904.1 L634.5 894.8 L637.4 868.2 L640 849 L642 836 L646 813.2 L647.4 807.5 L649 802.9 L650 800.7 L651 799.1 L652 797.8 L652.5 797.7 L653 798.1 L653.5 799 L655.5 803.4 L657.5 809 L659 815.7 L664.5 856.4 L667 871.6 L668.5 878.2 L670 882.4 L670.7 883.1 L671 882.8 L671.5 881.5 L675 864.8 L678 846.4 L682.5 813.9 L690.5 752.5 L691.5 746.7 L693 739.7 L695 731.6 L695.6 730.3 L696.5 730.5 L697.6 731.3 L698.5 732.6 L700 737 L702.1 745.5 L703.5 752.4 L707 773.8 L713 807 L717.5 826.9 L719.5 834.4 L721.5 840.9 L725 850.7 L728.5 858.6 L729.5 860.3 L730 860.7 L730.5 860.7 L731.5 859.9 L734 855.9 L735 854.6 L735.8 854.2 L736.5 854.9 L737 855.9 L738 859.1 L740 867.1 L741 871.9 L742.2 880 L743 887.8 L750 992 L755 1057 L758.5 1106.4 L760.5 1128.4 L766 1182.5 L770 1209.5 L774 1238.6 L775.5 1247.4 L776.5 1251.6 L778 1255.5 L779 1257.1 L779.5 1257.4 L785 1257.8 L791 1257.9" fill="none" stroke="#cd7bc0" stroke-width="5.83" stroke-linejoin="round" stroke-linecap="square"/>
<path d="M230 1257.9 L312 1257.6 L337.5 1256.7 L366.5 1255.2 L379 1254.1 L389 1252.7 L395 1251.4 L410 1247.5 L430 1243.1 L435.5 1241.5 L439 1240.1 L456 1231 L458.5 1229.9 L462 1228.9 L470.5 1227.5 L473.5 1226.6 L476.5 1224.6 L482.5 1219.2 L484.5 1217.6 L487.5 1215.8 L494.5 1212.1 L497.5 1210.2 L502.5 1206.1 L506.5 1201.8 L509.5 1197.6 L515.5 1188.4 L520.5 1179.4 L522 1177.5 L525 1175.5 L528 1174.1 L529.5 1173.8 L530.5 1173.8 L532 1174.2 L535.5 1175.9 L537 1176.5 L541.5 1176.9 L545.5 1177 L547.5 1176.1 L550.5 1173.3 L553 1170.4 L554.5 1168.1 L556 1165.3 L558 1160.9 L561 1153.1 L565 1138.6 L566 1136 L568.5 1131.2 L570.5 1128.1 L572.5 1126 L574.5 1124.7 L579.5 1122.4 L581.5 1120.8 L583 1119.3 L584.5 1117.3 L586 1114.8 L587.5 1110.3 L591.5 1091.4 L595.5 1070.2 L598 1058.7 L604.5 1031.5 L623 956.6 L625 947.7 L629 927.7 L632.5 912.8 L634 903.8 L637 877.8 L640.5 853.8 L645 828.4 L646.5 821.6 L647.4 818.6 L648.5 815.8 L650 812.9 L651.5 811 L652 810.6 L652.5 810.5 L653 810.9 L653.5 811.6 L655.5 815.4 L657.5 820.4 L658.5 824 L659.5 829.7 L664.5 867 L667 882.8 L668 887.8 L669.5 892.9 L670.5 894.9 L670.8 895 L671 894.9 L671.5 893.7 L672 891.8 L674 882.1 L677.5 862 L682.5 826.8 L687.5 788.5 L691 764.9 L693 756.4 L695.5 749.4 L696.2 748.3 L698.2 748.1 L699 748.4 L699.5 748.9 L701 751.1 L703 755.3 L704 758.4 L708.5 778.9 L713.5 803.5 L717 816.9 L719.5 824.7 L721 828.3 L723 832.2 L730 843.2 L730.9 843.8 L736 843.2 L736.5 843.7 L737 844.8 L738 848.7 L741 864.2 L742.5 874.5 L744 887.5 L747 920.4 L751 974 L758.5 1087.2 L764.5 1155.9 L766 1171.2 L767.5 1183.8 L773.5 1228.9 L775.5 1241.6 L776.5 1246.1 L777.5 1249 L778.5 1251.3 L779.5 1252.6 L784 1254.9 L789 1256.6 L794 1257.6 L799 1257.9" fill="none" stroke="#808080" stroke-width="5.83" stroke-linejoin="round" stroke-linecap="square"/>
<path d="M206 1257.9 L253 1257.6 L307 1256.9 L334 1255.9 L363.5 1254.3 L377 1253 L388.5 1251.4 L395 1250 L410 1246 L429 1241.8 L435 1240 L438.5 1238.6 L456 1229.2 L458.5 1228 L462 1227 L470.5 1225.5 L473.5 1224.6 L476.5 1222.6 L482.5 1217 L485 1215 L496.5 1207.9 L501.5 1203.7 L506 1198.8 L509.5 1193.8 L515 1185 L519.5 1176.6 L521 1174.2 L522.5 1172.5 L526 1170 L528 1169.1 L530 1168.7 L531.5 1168.9 L535.5 1170.6 L537 1171 L545.5 1171 L547.5 1170.1 L550 1167.8 L552.5 1165 L554 1162.9 L555.5 1160.3 L557.5 1156.1 L560.5 1148.6 L564 1135.9 L565.5 1131.2 L567 1128 L569 1124.3 L571 1121.5 L572.5 1120 L574.5 1118.7 L579.5 1116.3 L582 1114.5 L583.5 1113.2 L586 1110 L586.5 1109 L587.5 1105.9 L591.5 1087.7 L595.5 1067.3 L598 1056.3 L617 980 L622 960.8 L625 947.5 L629 925 L632 910.5 L633.3 903 L638.5 857.8 L641.5 835.8 L645 812.7 L647 801.7 L649.5 792.6 L651.5 787.7 L652 786.8 L652.5 786.6 L653 787 L653.5 787.9 L655.5 792.1 L657 795.9 L658 799.2 L659 804.1 L664 840.1 L666.5 855 L668 862.2 L669 865.7 L670 868.3 L670.3 868.5 L670.5 868.4 L671 867.5 L671.5 865.9 L673 860 L675.5 847.1 L683.5 792.7 L688 764.6 L689 760 L690.5 754.9 L692.5 749.8 L693 748.8 L693.5 748.3 L694 748.6 L694.5 749.2 L697 754.1 L698.5 758.2 L700.5 764.8 L711 814.4 L715.5 832.5 L720 848.1 L723.5 858.8 L728 871 L729 873 L730 874.4 L733 877.3 L734.5 879.2 L736 882.3 L738.5 891 L741 902 L742 908 L743 916.2 L746 949 L754.5 1056 L758.7 1112.5 L760.5 1131.2 L765.5 1178.5 L767 1189.3 L770 1207.5 L774 1236.8 L776 1248.2 L777.5 1252.7 L779 1255.5 L780 1256.3 L782 1257.3 L783.5 1257.7 L785 1257.9" fill="none" stroke="#bcb838" stroke-width="5.83" stroke-linejoin="round" stroke-linecap="square"/>
</g>
<rect x="30.0" y="702.1" width="811.8" height="556.1999999999999" fill="none" stroke="#000" stroke-width="1.56"/>
<path d="M70.4 1258.3 v6.8 M216.8 1258.3 v6.8 M363.2 1258.3 v6.8 M509.6 1258.3 v6.8 M656 1258.3 v6.8 M802.4 1258.3 v6.8 M30.0 1258.3 h-6.8 M30.0 1154 h-6.8 M30.0 1049.8 h-6.8 M30.0 945.5 h-6.8 M30.0 841.3 h-6.8 M30.0 737 h-6.8" stroke="#000" stroke-width="1.56" fill="none"/>
<g font-size="19.44" fill="#000">
<text x="70.4" y="1286.8" text-anchor="middle">0.0</text>
<text x="216.8" y="1286.8" text-anchor="middle">0.2</text>
<text x="363.2" y="1286.8" text-anchor="middle">0.4</text>
<text x="509.6" y="1286.8" text-anchor="middle">0.6</text>
<text x="656" y="1286.8" text-anchor="middle">0.8</text>
<text x="802.4" y="1286.8" text-anchor="middle">1.0</text>
<text x="16.4" y="1265.7" text-anchor="end">0</text>
<text x="16.4" y="1161.5" text-anchor="end">1</text>
<text x="16.4" y="1057.2" text-anchor="end">2</text>
<text x="16.4" y="952.9" text-anchor="end">3</text>
<text x="16.4" y="848.7" text-anchor="end">4</text>
<text x="16.4" y="744.4" text-anchor="end">5</text>
</g>
<text x="435.9" y="690.4" text-anchor="middle" font-size="27.2" fill="#000">QED</text>
<rect x="39.8" y="711.6" width="267.7" height="258.8" rx="3.9" ry="3.9" fill="#fff" fill-opacity="0.8" stroke="#ccc" stroke-opacity="0.8" stroke-width="1.94"/>
<g font-size="19.44" fill="#000">
<path d="M47.6 727.1 h38.9" stroke="#4878b0" stroke-width="5.83" stroke-linecap="square" fill="none"/>
<text x="100.6" y="734.2" letter-spacing="-0.15">MOSES (0)</text>
<path d="M47.6 755.3 h38.9" stroke="#e47e26" stroke-width="5.83" stroke-linecap="square" fill="none"/>
<text x="100.6" y="762.4" letter-spacing="-0.15">HMM (0.26)</text>
<path d="M47.6 783.4 h38.9" stroke="#5ea33a" stroke-width="5.83" stroke-linecap="square" fill="none"/>
<text x="100.6" y="790.5" letter-spacing="-0.15">NGram (0.089)</text>
<path d="M47.6 811.6 h38.9" stroke="#bd2a2e" stroke-width="5.83" stroke-linecap="square" fill="none"/>
<text x="100.6" y="818.7" letter-spacing="-0.15">Combinatorial (0.15)</text>
<path d="M47.6 839.8 h38.9" stroke="#8a68b9" stroke-width="5.83" stroke-linecap="square" fill="none"/>
<text x="100.6" y="846.9" letter-spacing="-0.15">CharRNN (0.0022)</text>
<path d="M47.6 867.9 h38.9" stroke="#80564c" stroke-width="5.83" stroke-linecap="square" fill="none"/>
<text x="100.6" y="875" letter-spacing="-0.15">AAE (0.006)</text>
<path d="M47.6 896 h38.9" stroke="#cd7bc0" stroke-width="5.83" stroke-linecap="square" fill="none"/>
<text x="100.6" y="903.1" letter-spacing="-0.15">VAE (0.0006)</text>
<path d="M47.6 924.2 h38.9" stroke="#808080" stroke-width="5.83" stroke-linecap="square" fill="none"/>
<text x="100.6" y="931.3" letter-spacing="-0.15">JTN-VAE (0.0028)</text>
<path d="M47.6 952.4 h38.9" stroke="#bcb838" stroke-width="5.83" stroke-linecap="square" fill="none"/>
<text x="100.6" y="959.5" letter-spacing="-0.15">LatentGAN (0.0049)</text>
</g>
</g>
<g id="ax-SA">
<clipPath id="clip3"><rect x="942.8" y="702.1" width="793.5" height="556.1999999999999"/></clipPath>
<g clip-path="url(#clip3)">
<path d="M1055 1257.9 L1058 1257.7 L1061.5 1257.1 L1065.5 1256.2 L1068 1255.2 L1071 1253.6 L1073.5 1251.8 L1075 1250.2 L1076.5 1248 L1078.5 1244.5 L1080 1241.3 L1081.5 1237.3 L1083 1232.4 L1086.5 1218.8 L1089.3 1204.6 L1091 1193.4 L1093.8 1171.3 L1097.8 1134 L1102 1085 L1108 1005.7 L1115 938.5 L1121.5 864.8 L1127 817 L1129 801.3 L1131 788.2 L1134 771 L1137.5 753.2 L1139.5 745 L1142 736.7 L1145 729.9 L1145.5 729.2 L1146.3 728.7 L1147.5 729.1 L1149 730.3 L1151 732.6 L1152.5 735.1 L1154 738.4 L1155.5 742.4 L1157.5 750.8 L1161 769.9 L1166 800 L1180.3 871.9 L1190 934.4 L1195 964 L1198.5 981.9 L1204 1008 L1215 1070.4 L1220 1096.2 L1224.5 1117.8 L1227.5 1130.8 L1231 1144.9 L1235 1159.6 L1238 1169.8 L1241 1178.9 L1245 1189.7 L1248.5 1198.1 L1251.5 1204.5 L1255.5 1212.1 L1259.5 1218.6 L1264.5 1225.1 L1269 1230.1 L1273 1233.7 L1279.5 1238.2 L1285 1241.2 L1290.5 1243.4 L1295.5 1244.9 L1319.5 1251.3 L1330 1253.2 L1340.5 1254.8 L1350.5 1255.7 L1367.5 1256.6 L1389.5 1257.4 L1410 1257.9 L1410 1258.3 L1055 1258.3 Z" fill="#4878b0" fill-opacity="0.25"/>
<path d="M976 1257.9 L980 1254 L985 1247.5 L992 1231.4 L993 1227.9 L998.7 1200 L1003.7 1160 L1008.7 1115 L1012.5 1072.5 L1016 1030 L1020 1000 L1022 987.5 L1024.5 962.5 L1027.5 937.5 L1030.5 915 L1036 898.8 L1037 896.7 L1038 898.8 L1043.7 917.5 L1047.5 945 L1051 964 L1058.7 1010 L1063.5 1036.8 L1064 1038.2 L1070 1048.7 L1075 1052 L1081 1051 L1088 1047.7 L1089 1047.5 L1096 1050 L1103.7 1057.5 L1112.5 1072.5 L1127.5 1107.5 L1142 1136.6 L1143 1138.1 L1148.7 1144.5 L1153.7 1146 L1160 1144.5 L1167.5 1138.7 L1175 1131 L1182.5 1125 L1188.7 1123 L1195.5 1125.8 L1196.5 1126.3 L1215 1142.5 L1225 1148.7 L1235 1156 L1245 1167 L1254.5 1179.4 L1256 1181.1 L1270 1195 L1284 1205.4 L1286 1206.5 L1299.5 1212.3 L1310.5 1215.2 L1320.5 1220.3 L1330 1226 L1340.5 1232.8 L1350 1237.5 L1361 1241.5 L1385.5 1244.5 L1406 1246 L1423.5 1248.7 L1440.5 1250.5 L1461.5 1251.2 L1510.5 1253.7 L1535 1255.5 L1561 1255.7 L1590.5 1255.5 L1611 1256.5 L1639 1257.3 L1700 1257.9 L1700 1258.3 L976 1258.3 Z" fill="#e47e26" fill-opacity="0.25"/>
<path d="M1000 1257.9 L1002.5 1257.7 L1005 1257 L1008 1255.9 L1011 1254.4 L1012.5 1253.3 L1014.5 1251.3 L1018.5 1246 L1021 1241.2 L1024 1234.3 L1033 1206.9 L1036 1199.3 L1038.5 1193.9 L1040.5 1190.1 L1043 1186.2 L1054 1171.4 L1058 1165.3 L1066 1151 L1068.5 1145.9 L1070.5 1141.3 L1073 1134.5 L1076 1125 L1078.5 1115.7 L1081 1105 L1086 1080 L1093.5 1039.3 L1096 1027.5 L1098 1019.6 L1100 1012.8 L1101.5 1008.8 L1103.5 1004.4 L1106.5 999.1 L1110.5 993.3 L1121.5 980.2 L1125 976.5 L1130 972 L1133.5 969.7 L1135.5 968.8 L1139.5 967.6 L1141.5 967.2 L1143.7 967 L1148 967.3 L1152 967.9 L1155.5 969.1 L1159 970.8 L1162 973.2 L1165 976.2 L1168.5 980.2 L1171.5 984.3 L1179 996.6 L1187 1011.6 L1195 1025.8 L1199 1032.4 L1207 1044.2 L1212 1052.4 L1229.5 1082.3 L1242.5 1105.4 L1247 1114 L1250.5 1121.3 L1271 1167 L1277.5 1179.6 L1283.5 1190.1 L1288 1197.1 L1292 1202.9 L1296 1208.2 L1299.5 1212.3 L1304.5 1217.4 L1310.5 1222.9 L1316.5 1228 L1322 1232.2 L1329.5 1237 L1336 1240.5 L1344.5 1244.1 L1354 1247.2 L1362 1249.4 L1370 1250.9 L1380.5 1252.4 L1396.5 1254.3 L1408 1255.4 L1423 1256.1 L1473 1257.6 L1496.5 1257.9 L1560 1257.9 L1560 1258.3 L1000 1258.3 Z" fill="#5ea33a" fill-opacity="0.25"/>
<path d="M1010 1257.9 L1021 1255.5 L1035.5 1251.4 L1042 1249 L1045 1247.5 L1046.5 1246.5 L1048.5 1244.8 L1051 1242.2 L1057.5 1234.3 L1063 1225.9 L1068.5 1216.1 L1074 1204.7 L1079 1193.2 L1083.5 1181.7 L1087.5 1170.1 L1092.5 1153.8 L1097 1137.5 L1104.5 1106.6 L1109.5 1084.2 L1112 1074.6 L1114 1068.8 L1119 1057.5 L1122 1049.6 L1128 1032 L1139 998.6 L1144 984.7 L1148 975 L1152 966.2 L1162.5 944.5 L1166 938.4 L1168.5 934.7 L1170.5 932.1 L1172 930.5 L1175 927.8 L1176.5 926.7 L1178 926 L1180.5 925.3 L1182.5 925 L1183.5 925.1 L1185 925.8 L1188 927.8 L1190 930.3 L1194 936.6 L1197 942 L1200 948 L1206 962 L1211.5 973.5 L1213 977.3 L1214.5 981.9 L1223.5 1012.4 L1226.5 1021.3 L1229 1027.3 L1234.5 1038.9 L1242.5 1056.7 L1250 1074.7 L1257 1092.8 L1272 1134.7 L1276 1144.9 L1282 1158.6 L1291 1177.5 L1295 1185 L1299.5 1192.2 L1306 1201.4 L1312.5 1209.6 L1318.5 1216.3 L1324.5 1222.3 L1332.5 1229.4 L1338 1233.7 L1344.5 1237.6 L1352 1241.2 L1363 1245.7 L1371.5 1248.4 L1383 1251.3 L1392.5 1253.1 L1404.5 1254.6 L1418 1255.8 L1428 1256.4 L1447 1257.2 L1474.5 1257.9 L1663 1257.9 L1663 1258.3 L1010 1258.3 Z" fill="#bd2a2e" fill-opacity="0.25"/>
<path d="M1052 1257.9 L1055.5 1257.8 L1059.5 1257.4 L1064.8 1256.5 L1067 1255.9 L1069.5 1254.9 L1072.5 1253.1 L1074.5 1251.5 L1076 1249.8 L1078 1246.7 L1080 1242.9 L1082.5 1236.3 L1084.8 1228.6 L1086.5 1222 L1089.5 1207.7 L1091.5 1195.2 L1093.5 1180 L1096 1159.2 L1098 1140.3 L1102.5 1089.6 L1108.5 1012.5 L1115.5 947.2 L1122 875.4 L1128 824.8 L1130 810.3 L1132.5 795.1 L1136 776.4 L1138.5 764.6 L1140.5 757.1 L1142.5 750.8 L1145.5 744.2 L1146 743.5 L1146.8 743 L1148 743.4 L1149.5 744.6 L1151.5 746.8 L1153 749.2 L1154.5 752.4 L1156 756.3 L1158 764.5 L1161.5 783.1 L1166.5 812.4 L1180.8 882.3 L1190.5 943.2 L1195.5 971.9 L1199 989.4 L1204.5 1014.8 L1216 1078 L1221.5 1105.4 L1225.5 1123.8 L1229 1138.3 L1232 1149.8 L1236 1163.9 L1239.5 1175.2 L1243 1185.1 L1247 1195.2 L1250.5 1202.9 L1254.5 1210.7 L1258.5 1217.4 L1262.5 1222.9 L1267.5 1228.8 L1272 1233.1 L1277.5 1237.1 L1283.5 1240.7 L1289 1243.1 L1295.5 1245.1 L1321.5 1251.8 L1334 1253.9 L1345 1255.3 L1361.5 1256.4 L1379 1257.1 L1407.5 1257.7 L1430 1257.9 L1430 1258.3 L1052 1258.3 Z" fill="#8a68b9" fill-opacity="0.25"/>
<path d="M1050 1257.9 L1059.5 1257.6 L1068 1256.7 L1070.5 1256 L1073 1255.1 L1076 1253.5 L1077 1252.7 L1078.5 1250.9 L1080.5 1247.7 L1083 1243.1 L1085 1238.6 L1087 1233.1 L1088.5 1228.3 L1091 1217.3 L1094.5 1198.8 L1098 1177 L1101 1155.9 L1104 1131.3 L1108 1091.6 L1115.5 1004.8 L1122.5 934.4 L1124.5 918.2 L1126.5 905 L1129.5 890.4 L1130.5 884 L1133.5 856.7 L1135.5 840.4 L1139.5 810 L1141.5 797.1 L1144.5 781.4 L1147.5 769.4 L1149 764.6 L1151 759.6 L1152 757.8 L1152.5 757.5 L1153 757.7 L1154 759.1 L1156 763.3 L1166 796.5 L1169.5 809.5 L1175.5 835 L1182.5 862.9 L1191 901.2 L1205.5 960.8 L1210 980.2 L1212.5 992.8 L1215.5 1012.1 L1217 1020.4 L1227 1070.3 L1230 1083.9 L1242 1135 L1250 1165 L1254.5 1182.6 L1257 1191.3 L1259.5 1199.2 L1261.5 1204.8 L1264.5 1211.8 L1267 1216.9 L1270.5 1222.7 L1275 1228.8 L1279 1233.1 L1283.5 1236.8 L1288 1239.9 L1292.5 1242.2 L1299 1244.8 L1307 1247.2 L1318.5 1250 L1329 1252.1 L1342 1253.9 L1356 1255.5 L1367.5 1256.4 L1386.5 1257.2 L1404.5 1257.7 L1420 1257.9 L1420 1258.3 L1050 1258.3 Z" fill="#80564c" fill-opacity="0.25"/>
<path d="M1050 1257.9 L1058 1257.4 L1064 1256.5 L1066 1256 L1068.5 1254.9 L1071 1253.4 L1073.5 1251.6 L1075 1249.9 L1077 1246.8 L1079 1243 L1081.5 1236.5 L1083.5 1229.8 L1085.5 1222.2 L1088.5 1207.8 L1090 1198.8 L1092 1184.1 L1094.5 1163.5 L1097 1140.1 L1099 1118.7 L1101.5 1088.9 L1108 1004.5 L1114.5 943.2 L1121 870 L1127 818.1 L1128.7 805 L1131 790.2 L1134.5 770.7 L1137.5 755.9 L1139.5 748 L1141.5 741.5 L1144.5 734.5 L1145.5 733.2 L1146 733 L1147 733.3 L1148.5 734.4 L1150.5 736.6 L1152 738.9 L1153.5 742.1 L1155 746 L1156 749.4 L1157 753.9 L1160.5 772.8 L1165.5 802.7 L1180 875 L1189.5 935.8 L1194.5 965.3 L1198 983.2 L1203.5 1009 L1215 1073.5 L1220.5 1101.4 L1224.5 1120.3 L1227.5 1133.1 L1231 1146.9 L1235 1161.4 L1238.5 1173 L1242 1183.1 L1245.5 1192.3 L1249 1200.4 L1252.5 1207.5 L1256.5 1214.7 L1260 1220 L1265 1226.3 L1270 1231.6 L1275 1235.6 L1281 1239.4 L1286.5 1242.1 L1292.5 1244.2 L1320 1251.5 L1332 1253.6 L1342.5 1255 L1356.5 1256.1 L1374.5 1257 L1400 1257.7 L1420 1257.9 L1420 1258.3 L1050 1258.3 Z" fill="#cd7bc0" fill-opacity="0.25"/>
<path d="M1050 1257.9 L1059.5 1257.6 L1069 1256.8 L1073.5 1255.6 L1076 1254.5 L1078 1253.4 L1079.5 1251.8 L1081 1249.7 L1085.5 1241.6 L1088.5 1234.4 L1091 1226.5 L1093.5 1215.1 L1097 1196.4 L1100.5 1174.1 L1103.5 1151.9 L1107 1123.7 L1110 1097.5 L1115 1047.5 L1123 970.8 L1124.5 959.2 L1127.5 940 L1131 915 L1133.5 900.7 L1137.5 880.9 L1140 870 L1143.5 856.5 L1146 849.5 L1148.5 844.2 L1149.5 842.6 L1151.5 840.3 L1152.5 839.4 L1153.7 839 L1155 839.3 L1156 839.7 L1158.5 841.4 L1159.5 842.3 L1163 847 L1165.5 851.2 L1170.5 861.1 L1174.5 869.8 L1181 886 L1185 895.4 L1187 900.8 L1190.5 911.7 L1197.5 937.4 L1199.5 943.3 L1205 957.9 L1207 964.6 L1209.5 975.6 L1219 1021.4 L1229 1064.4 L1233.5 1082.3 L1241 1110.6 L1250.5 1143.9 L1253.5 1152.8 L1257.5 1163.3 L1262 1173.9 L1267.5 1185.7 L1271 1192.4 L1274.5 1198.2 L1279 1204.9 L1283.5 1210.7 L1290.5 1218.5 L1297 1224.6 L1304.5 1230.2 L1312.5 1235.1 L1321.5 1239.5 L1332 1243.6 L1342 1246.7 L1355 1249.9 L1366 1251.9 L1377 1253.3 L1391 1254.6 L1409.5 1255.7 L1439.5 1257 L1474 1257.7 L1500 1257.9 L1500 1258.3 L1050 1258.3 Z" fill="#808080" fill-opacity="0.25"/>
<path d="M1040 1257.9 L1045 1257.8 L1050 1257.4 L1056 1256.6 L1061 1255.8 L1063 1255.2 L1065.5 1254 L1070 1251 L1071.5 1249.5 L1073.5 1246.7 L1076.5 1241.6 L1078.5 1237.7 L1081.5 1230.4 L1083 1225.8 L1084 1222 L1086 1212.7 L1089.5 1194.4 L1092.5 1175 L1093.5 1166.2 L1101 1089.5 L1104 1056.5 L1107 1020.2 L1108.5 1005.8 L1111 986.5 L1115 961.5 L1120 924 L1123 903 L1127.5 876 L1130.5 861.2 L1132.5 853.2 L1135 845.1 L1139 834.6 L1140 833 L1141.5 831.5 L1142.5 830.8 L1143.7 830.5 L1146 830.9 L1149.5 832.3 L1155 834.2 L1158.5 835.7 L1160.5 836.8 L1162 838 L1163 839.1 L1164 840.9 L1165.5 844.8 L1170 859.5 L1181 905 L1191.5 941.9 L1202 981.8 L1209.5 1012.9 L1211 1020 L1213.5 1034 L1215.5 1042.8 L1219.5 1058 L1226 1085 L1232.5 1110 L1238 1132.3 L1241.5 1145.2 L1244.5 1155.4 L1248 1165.6 L1252.5 1176.8 L1258.5 1190.1 L1264 1200.8 L1269.5 1209.9 L1274 1216.3 L1279.5 1222.6 L1285 1227.9 L1292 1233.5 L1298 1237.6 L1304.5 1240.9 L1312.5 1244.1 L1323 1247.5 L1333 1250.1 L1348 1253 L1359.5 1254.5 L1372.5 1255.4 L1388 1256.2 L1422 1257.4 L1441.5 1257.8 L1629 1257.9 L1629 1258.3 L1040 1258.3 Z" fill="#bcb838" fill-opacity="0.25"/>
<path d="M1055 1257.9 L1058 1257.7 L1061.5 1257.1 L1065.5 1256.2 L1068 1255.2 L1071 1253.6 L1073.5 1251.8 L1075 1250.2 L1076.5 1248 L1078.5 1244.5 L1080 1241.3 L1081.5 1237.3 L1083 1232.4 L1086.5 1218.8 L1089.3 1204.6 L1091 1193.4 L1093.8 1171.3 L1097.8 1134 L1102 1085 L1108 1005.7 L1115 938.5 L1121.5 864.8 L1127 817 L1129 801.3 L1131 788.2 L1134 771 L1137.5 753.2 L1139.5 745 L1142 736.7 L1145 729.9 L1145.5 729.2 L1146.3 728.7 L1147.5 729.1 L1149 730.3 L1151 732.6 L1152.5 735.1 L1154 738.4 L1155.5 742.4 L1157.5 750.8 L1161 769.9 L1166 800 L1180.3 871.9 L1190 934.4 L1195 964 L1198.5 981.9 L1204 1008 L1215 1070.4 L1220 1096.2 L1224.5 1117.8 L1227.5 1130.8 L1231 1144.9 L1235 1159.6 L1238 1169.8 L1241 1178.9 L1245 1189.7 L1248.5 1198.1 L1251.5 1204.5 L1255.5 1212.1 L1259.5 1218.6 L1264.5 1225.1 L1269 1230.1 L1273 1233.7 L1279.5 1238.2 L1285 1241.2 L1290.5 1243.4 L1295.5 1244.9 L1319.5 1251.3 L1330 1253.2 L1340.5 1254.8 L1350.5 1255.7 L1367.5 1256.6 L1389.5 1257.4 L1410 1257.9" fill="none" stroke="#4878b0" stroke-width="5.83" stroke-linejoin="round" stroke-linecap="square"/>
<path d="M976 1257.9 L980 1254 L985 1247.5 L992 1231.4 L993 1227.9 L998.7 1200 L1003.7 1160 L1008.7 1115 L1012.5 1072.5 L1016 1030 L1020 1000 L1022 987.5 L1024.5 962.5 L1027.5 937.5 L1030.5 915 L1036 898.8 L1037 896.7 L1038 898.8 L1043.7 917.5 L1047.5 945 L1051 964 L1058.7 1010 L1063.5 1036.8 L1064 1038.2 L1070 1048.7 L1075 1052 L1081 1051 L1088 1047.7 L1089 1047.5 L1096 1050 L1103.7 1057.5 L1112.5 1072.5 L1127.5 1107.5 L1142 1136.6 L1143 1138.1 L1148.7 1144.5 L1153.7 1146 L1160 1144.5 L1167.5 1138.7 L1175 1131 L1182.5 1125 L1188.7 1123 L1195.5 1125.8 L1196.5 1126.3 L1215 1142.5 L1225 1148.7 L1235 1156 L1245 1167 L1254.5 1179.4 L1256 1181.1 L1270 1195 L1284 1205.4 L1286 1206.5 L1299.5 1212.3 L1310.5 1215.2 L1320.5 1220.3 L1330 1226 L1340.5 1232.8 L1350 1237.5 L1361 1241.5 L1385.5 1244.5 L1406 1246 L1423.5 1248.7 L1440.5 1250.5 L1461.5 1251.2 L1510.5 1253.7 L1535 1255.5 L1561 1255.7 L1590.5 1255.5 L1611 1256.5 L1639 1257.3 L1700 1257.9" fill="none" stroke="#e47e26" stroke-width="5.83" stroke-linejoin="round" stroke-linecap="square"/>
<path d="M1000 1257.9 L1002.5 1257.7 L1005 1257 L1008 1255.9 L1011 1254.4 L1012.5 1253.3 L1014.5 1251.3 L1018.5 1246 L1021 1241.2 L1024 1234.3 L1033 1206.9 L1036 1199.3 L1038.5 1193.9 L1040.5 1190.1 L1043 1186.2 L1054 1171.4 L1058 1165.3 L1066 1151 L1068.5 1145.9 L1070.5 1141.3 L1073 1134.5 L1076 1125 L1078.5 1115.7 L1081 1105 L1086 1080 L1093.5 1039.3 L1096 1027.5 L1098 1019.6 L1100 1012.8 L1101.5 1008.8 L1103.5 1004.4 L1106.5 999.1 L1110.5 993.3 L1121.5 980.2 L1125 976.5 L1130 972 L1133.5 969.7 L1135.5 968.8 L1139.5 967.6 L1141.5 967.2 L1143.7 967 L1148 967.3 L1152 967.9 L1155.5 969.1 L1159 970.8 L1162 973.2 L1165 976.2 L1168.5 980.2 L1171.5 984.3 L1179 996.6 L1187 1011.6 L1195 1025.8 L1199 1032.4 L1207 1044.2 L1212 1052.4 L1229.5 1082.3 L1242.5 1105.4 L1247 1114 L1250.5 1121.3 L1271 1167 L1277.5 1179.6 L1283.5 1190.1 L1288 1197.1 L1292 1202.9 L1296 1208.2 L1299.5 1212.3 L1304.5 1217.4 L1310.5 1222.9 L1316.5 1228 L1322 1232.2 L1329.5 1237 L1336 1240.5 L1344.5 1244.1 L1354 1247.2 L1362 1249.4 L1370 1250.9 L1380.5 1252.4 L1396.5 1254.3 L1408 1255.4 L1423 1256.1 L1473 1257.6 L1496.5 1257.9 L1560 1257.9" fill="none" stroke="#5ea33a" stroke-width="5.83" stroke-linejoin="round" stroke-linecap="square"/>
<path d="M1010 1257.9 L1021 1255.5 L1035.5 1251.4 L1042 1249 L1045 1247.5 L1046.5 1246.5 L1048.5 1244.8 L1051 1242.2 L1057.5 1234.3 L1063 1225.9 L1068.5 1216.1 L1074 1204.7 L1079 1193.2 L1083.5 1181.7 L1087.5 1170.1 L1092.5 1153.8 L1097 1137.5 L1104.5 1106.6 L1109.5 1084.2 L1112 1074.6 L1114 1068.8 L1119 1057.5 L1122 1049.6 L1128 1032 L1139 998.6 L1144 984.7 L1148 975 L1152 966.2 L1162.5 944.5 L1166 938.4 L1168.5 934.7 L1170.5 932.1 L1172 930.5 L1175 927.8 L1176.5 926.7 L1178 926 L1180.5 925.3 L1182.5 925 L1183.5 925.1 L1185 925.8 L1188 927.8 L1190 930.3 L1194 936.6 L1197 942 L1200 948 L1206 962 L1211.5 973.5 L1213 977.3 L1214.5 981.9 L1223.5 1012.4 L1226.5 1021.3 L1229 1027.3 L1234.5 1038.9 L1242.5 1056.7 L1250 1074.7 L1257 1092.8 L1272 1134.7 L1276 1144.9 L1282 1158.6 L1291 1177.5 L1295 1185 L1299.5 1192.2 L1306 1201.4 L1312.5 1209.6 L1318.5 1216.3 L1324.5 1222.3 L1332.5 1229.4 L1338 1233.7 L1344.5 1237.6 L1352 1241.2 L1363 1245.7 L1371.5 1248.4 L1383 1251.3 L1392.5 1253.1 L1404.5 1254.6 L1418 1255.8 L1428 1256.4 L1447 1257.2 L1474.5 1257.9 L1663 1257.9" fill="none" stroke="#bd2a2e" stroke-width="5.83" stroke-linejoin="round" stroke-linecap="square"/>
<path d="M1052 1257.9 L1055.5 1257.8 L1059.5 1257.4 L1064.8 1256.5 L1067 1255.9 L1069.5 1254.9 L1072.5 1253.1 L1074.5 1251.5 L1076 1249.8 L1078 1246.7 L1080 1242.9 L1082.5 1236.3 L1084.8 1228.6 L1086.5 1222 L1089.5 1207.7 L1091.5 1195.2 L1093.5 1180 L1096 1159.2 L1098 1140.3 L1102.5 1089.6 L1108.5 1012.5 L1115.5 947.2 L1122 875.4 L1128 824.8 L1130 810.3 L1132.5 795.1 L1136 776.4 L1138.5 764.6 L1140.5 757.1 L1142.5 750.8 L1145.5 744.2 L1146 743.5 L1146.8 743 L1148 743.4 L1149.5 744.6 L1151.5 746.8 L1153 749.2 L1154.5 752.4 L1156 756.3 L1158 764.5 L1161.5 783.1 L1166.5 812.4 L1180.8 882.3 L1190.5 943.2 L1195.5 971.9 L1199 989.4 L1204.5 1014.8 L1216 1078 L1221.5 1105.4 L1225.5 1123.8 L1229 1138.3 L1232 1149.8 L1236 1163.9 L1239.5 1175.2 L1243 1185.1 L1247 1195.2 L1250.5 1202.9 L1254.5 1210.7 L1258.5 1217.4 L1262.5 1222.9 L1267.5 1228.8 L1272 1233.1 L1277.5 1237.1 L1283.5 1240.7 L1289 1243.1 L1295.5 1245.1 L1321.5 1251.8 L1334 1253.9 L1345 1255.3 L1361.5 1256.4 L1379 1257.1 L1407.5 1257.7 L1430 1257.9" fill="none" stroke="#8a68b9" stroke-width="5.83" stroke-linejoin="round" stroke-linecap="square"/>
<path d="M1050 1257.9 L1059.5 1257.6 L1068 1256.7 L1070.5 1256 L1073 1255.1 L1076 1253.5 L1077 1252.7 L1078.5 1250.9 L1080.5 1247.7 L1083 1243.1 L1085 1238.6 L1087 1233.1 L1088.5 1228.3 L1091 1217.3 L1094.5 1198.8 L1098 1177 L1101 1155.9 L1104 1131.3 L1108 1091.6 L1115.5 1004.8 L1122.5 934.4 L1124.5 918.2 L1126.5 905 L1129.5 890.4 L1130.5 884 L1133.5 856.7 L1135.5 840.4 L1139.5 810 L1141.5 797.1 L1144.5 781.4 L1147.5 769.4 L1149 764.6 L1151 759.6 L1152 757.8 L1152.5 757.5 L1153 757.7 L1154 759.1 L1156 763.3 L1166 796.5 L1169.5 809.5 L1175.5 835 L1182.5 862.9 L1191 901.2 L1205.5 960.8 L1210 980.2 L1212.5 992.8 L1215.5 1012.1 L1217 1020.4 L1227 1070.3 L1230 1083.9 L1242 1135 L1250 1165 L1254.5 1182.6 L1257 1191.3 L1259.5 1199.2 L1261.5 1204.8 L1264.5 1211.8 L1267 1216.9 L1270.5 1222.7 L1275 1228.8 L1279 1233.1 L1283.5 1236.8 L1288 1239.9 L1292.5 1242.2 L1299 1244.8 L1307 1247.2 L1318.5 1250 L1329 1252.1 L1342 1253.9 L1356 1255.5 L1367.5 1256.4 L1386.5 1257.2 L1404.5 1257.7 L1420 1257.9" fill="none" stroke="#80564c" stroke-width="5.83" stroke-linejoin="round" stroke-linecap="square"/>
<path d="M1050 1257.9 L1058 1257.4 L1064 1256.5 L1066 1256 L1068.5 1254.9 L1071 1253.4 L1073.5 1251.6 L1075 1249.9 L1077 1246.8 L1079 1243 L1081.5 1236.5 L1083.5 1229.8 L1085.5 1222.2 L1088.5 1207.8 L1090 1198.8 L1092 1184.1 L1094.5 1163.5 L1097 1140.1 L1099 1118.7 L1101.5 1088.9 L1108 1004.5 L1114.5 943.2 L1121 870 L1127 818.1 L1128.7 805 L1131 790.2 L1134.5 770.7 L1137.5 755.9 L1139.5 748 L1141.5 741.5 L1144.5 734.5 L1145.5 733.2 L1146 733 L1147 733.3 L1148.5 734.4 L1150.5 736.6 L1152 738.9 L1153.5 742.1 L1155 746 L1156 749.4 L1157 753.9 L1160.5 772.8 L1165.5 802.7 L1180 875 L1189.5 935.8 L1194.5 965.3 L1198 983.2 L1203.5 1009 L1215 1073.5 L1220.5 1101.4 L1224.5 1120.3 L1227.5 1133.1 L1231 1146.9 L1235 1161.4 L1238.5 1173 L1242 1183.1 L1245.5 1192.3 L1249 1200.4 L1252.5 1207.5 L1256.5 1214.7 L1260 1220 L1265 1226.3 L1270 1231.6 L1275 1235.6 L1281 1239.4 L1286.5 1242.1 L1292.5 1244.2 L1320 1251.5 L1332 1253.6 L1342.5 1255 L1356.5 1256.1 L1374.5 1257 L1400 1257.7 L1420 1257.9" fill="none" stroke="#cd7bc0" stroke-width="5.83" stroke-linejoin="round" stroke-linecap="square"/>
<path d="M1050 1257.9 L1059.5 1257.6 L1069 1256.8 L1073.5 1255.6 L1076 1254.5 L1078 1253.4 L1079.5 1251.8 L1081 1249.7 L1085.5 1241.6 L1088.5 1234.4 L1091 1226.5 L1093.5 1215.1 L1097 1196.4 L1100.5 1174.1 L1103.5 1151.9 L1107 1123.7 L1110 1097.5 L1115 1047.5 L1123 970.8 L1124.5 959.2 L1127.5 940 L1131 915 L1133.5 900.7 L1137.5 880.9 L1140 870 L1143.5 856.5 L1146 849.5 L1148.5 844.2 L1149.5 842.6 L1151.5 840.3 L1152.5 839.4 L1153.7 839 L1155 839.3 L1156 839.7 L1158.5 841.4 L1159.5 842.3 L1163 847 L1165.5 851.2 L1170.5 861.1 L1174.5 869.8 L1181 886 L1185 895.4 L1187 900.8 L1190.5 911.7 L1197.5 937.4 L1199.5 943.3 L1205 957.9 L1207 964.6 L1209.5 975.6 L1219 1021.4 L1229 1064.4 L1233.5 1082.3 L1241 1110.6 L1250.5 1143.9 L1253.5 1152.8 L1257.5 1163.3 L1262 1173.9 L1267.5 1185.7 L1271 1192.4 L1274.5 1198.2 L1279 1204.9 L1283.5 1210.7 L1290.5 1218.5 L1297 1224.6 L1304.5 1230.2 L1312.5 1235.1 L1321.5 1239.5 L1332 1243.6 L1342 1246.7 L1355 1249.9 L1366 1251.9 L1377 1253.3 L1391 1254.6 L1409.5 1255.7 L1439.5 1257 L1474 1257.7 L1500 1257.9" fill="none" stroke="#808080" stroke-width="5.83" stroke-linejoin="round" stroke-linecap="square"/>
<path d="M1040 1257.9 L1045 1257.8 L1050 1257.4 L1056 1256.6 L1061 1255.8 L1063 1255.2 L1065.5 1254 L1070 1251 L1071.5 1249.5 L1073.5 1246.7 L1076.5 1241.6 L1078.5 1237.7 L1081.5 1230.4 L1083 1225.8 L1084 1222 L1086 1212.7 L1089.5 1194.4 L1092.5 1175 L1093.5 1166.2 L1101 1089.5 L1104 1056.5 L1107 1020.2 L1108.5 1005.8 L1111 986.5 L1115 961.5 L1120 924 L1123 903 L1127.5 876 L1130.5 861.2 L1132.5 853.2 L1135 845.1 L1139 834.6 L1140 833 L1141.5 831.5 L1142.5 830.8 L1143.7 830.5 L1146 830.9 L1149.5 832.3 L1155 834.2 L1158.5 835.7 L1160.5 836.8 L1162 838 L1163 839.1 L1164 840.9 L1165.5 844.8 L1170 859.5 L1181 905 L1191.5 941.9 L1202 981.8 L1209.5 1012.9 L1211 1020 L1213.5 1034 L1215.5 1042.8 L1219.5 1058 L1226 1085 L1232.5 1110 L1238 1132.3 L1241.5 1145.2 L1244.5 1155.4 L1248 1165.6 L1252.5 1176.8 L1258.5 1190.1 L1264 1200.8 L1269.5 1209.9 L1274 1216.3 L1279.5 1222.6 L1285 1227.9 L1292 1233.5 L1298 1237.6 L1304.5 1240.9 L1312.5 1244.1 L1323 1247.5 L1333 1250.1 L1348 1253 L1359.5 1254.5 L1372.5 1255.4 L1388 1256.2 L1422 1257.4 L1441.5 1257.8 L1629 1257.9" fill="none" stroke="#bcb838" stroke-width="5.83" stroke-linejoin="round" stroke-linecap="square"/>
</g>
<rect x="942.8" y="702.1" width="793.5" height="556.1999999999999" fill="none" stroke="#000" stroke-width="1.56"/>
<path d="M1030.5 1258.3 v6.8 M1124 1258.3 v6.8 M1217.5 1258.3 v6.8 M1311 1258.3 v6.8 M1404.5 1258.3 v6.8 M1498 1258.3 v6.8 M1591.5 1258.3 v6.8 M1685 1258.3 v6.8 M942.8 1258.3 h-6.8 M942.8 1149.2 h-6.8 M942.8 1040.1 h-6.8 M942.8 931 h-6.8 M942.8 821.9 h-6.8 M942.8 712.8 h-6.8" stroke="#000" stroke-width="1.56" fill="none"/>
<g font-size="19.44" fill="#000">
<text x="1030.5" y="1286.8" text-anchor="middle">1</text>
<text x="1124" y="1286.8" text-anchor="middle">2</text>
<text x="1217.5" y="1286.8" text-anchor="middle">3</text>
<text x="1311" y="1286.8" text-anchor="middle">4</text>
<text x="1404.5" y="1286.8" text-anchor="middle">5</text>
<text x="1498" y="1286.8" text-anchor="middle">6</text>
<text x="1591.5" y="1286.8" text-anchor="middle">7</text>
<text x="1685" y="1286.8" text-anchor="middle">8</text>
<text x="929.2" y="1265.7" text-anchor="end">0.0</text>
<text x="929.2" y="1156.6" text-anchor="end">0.2</text>
<text x="929.2" y="1047.5" text-anchor="end">0.4</text>
<text x="929.2" y="938.4" text-anchor="end">0.6</text>
<text x="929.2" y="829.3" text-anchor="end">0.8</text>
<text x="929.2" y="720.2" text-anchor="end">1.0</text>
</g>
<text x="1339.5" y="690.4" text-anchor="middle" font-size="27.2" fill="#000">SA</text>
<rect x="1458.8" y="711.6" width="267.4" height="258.8" rx="3.9" ry="3.9" fill="#fff" fill-opacity="0.8" stroke="#ccc" stroke-opacity="0.8" stroke-width="1.94"/>
<g font-size="19.44" fill="#000">
<path d="M1466.6 727.1 h38.9" stroke="#4878b0" stroke-width="5.83" stroke-linecap="square" fill="none"/>
<text x="1520.4" y="734.2" letter-spacing="-0.15">MOSES (0)</text>
<path d="M1466.6 755.3 h38.9" stroke="#e47e26" stroke-width="5.83" stroke-linecap="square" fill="none"/>
<text x="1520.4" y="762.4" letter-spacing="-0.15">HMM (0.64)</text>
<path d="M1466.6 783.4 h38.9" stroke="#5ea33a" stroke-width="5.83" stroke-linecap="square" fill="none"/>
<text x="1520.4" y="790.5" letter-spacing="-0.15">NGram (0.23)</text>
<path d="M1466.6 811.6 h38.9" stroke="#bd2a2e" stroke-width="5.83" stroke-linecap="square" fill="none"/>
<text x="1520.4" y="818.7" letter-spacing="-0.15">Combinatorial (0.28)</text>
<path d="M1466.6 839.8 h38.9" stroke="#8a68b9" stroke-width="5.83" stroke-linecap="square" fill="none"/>
<text x="1520.4" y="846.9" letter-spacing="-0.15">CharRNN (0.016)</text>
<path d="M1466.6 867.9 h38.9" stroke="#80564c" stroke-width="5.83" stroke-linecap="square" fill="none"/>
<text x="1520.4" y="875" letter-spacing="-0.15">AAE (0.066)</text>
<path d="M1466.6 896 h38.9" stroke="#cd7bc0" stroke-width="5.83" stroke-linecap="square" fill="none"/>
<text x="1520.4" y="903.1" letter-spacing="-0.15">VAE (0.014)</text>
<path d="M1466.6 924.2 h38.9" stroke="#808080" stroke-width="5.83" stroke-linecap="square" fill="none"/>
<text x="1520.4" y="931.3" letter-spacing="-0.15">JTN-VAE (0.16)</text>
<path d="M1466.6 952.4 h38.9" stroke="#bcb838" stroke-width="5.83" stroke-linecap="square" fill="none"/>
<text x="1520.4" y="959.5" letter-spacing="-0.15">LatentGAN (0.085)</text>
</g>
</g>
</svg>
</body></html>
